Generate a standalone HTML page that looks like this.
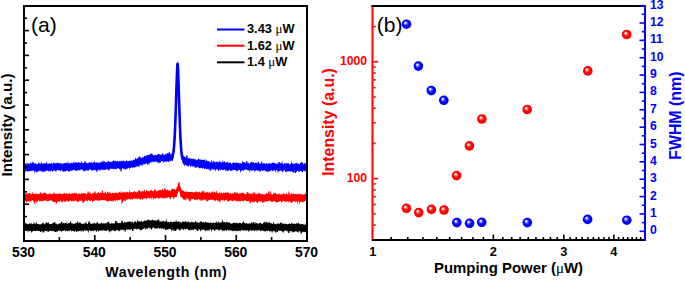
<!DOCTYPE html>
<html><head><meta charset="utf-8"><style>
html,body{margin:0;padding:0;background:#fff;width:685px;height:281px;overflow:hidden}
svg{display:block}
</style></head><body>
<svg width="685" height="281" viewBox="0 0 685 281">
<rect width="685" height="281" fill="#fff"/>
<path d="M25.00,224.59 25.60,222.60 26.20,224.04 26.79,222.89 27.39,224.58 27.99,224.11 28.59,224.30 29.19,224.01 29.78,222.60 30.38,224.34 30.98,224.47 31.58,222.61 32.17,224.12 32.77,224.43 33.37,224.46 33.97,221.82 34.57,223.76 35.16,223.18 35.76,224.53 36.36,221.43 36.96,223.74 37.56,224.20 38.15,223.78 38.75,224.25 39.35,224.29 39.95,224.41 40.54,224.15 41.14,224.47 41.74,224.20 42.34,223.92 42.94,223.56 43.53,222.18 44.13,224.48 44.73,224.47 45.33,223.14 45.93,222.71 46.52,222.29 47.12,222.61 47.72,223.58 48.32,221.58 48.91,223.40 49.51,224.20 50.11,224.10 50.71,224.13 51.31,223.87 51.90,223.99 52.50,222.98 53.10,223.42 53.70,222.90 54.30,223.25 54.89,222.07 55.49,224.02 56.09,222.91 56.69,224.34 57.29,224.41 57.88,224.39 58.48,223.68 59.08,223.30 59.68,223.80 60.27,222.90 60.87,224.06 61.47,223.41 62.07,223.64 62.67,223.90 63.26,222.91 63.86,222.63 64.46,223.59 65.06,223.87 65.66,222.87 66.25,224.29 66.85,221.40 67.45,223.98 68.05,224.09 68.64,223.34 69.24,223.20 69.84,223.80 70.44,223.68 71.04,224.00 71.63,223.17 72.23,222.72 72.83,224.20 73.43,224.18 74.03,223.01 74.62,223.97 75.22,223.55 75.82,222.87 76.42,223.51 77.01,222.25 77.61,220.68 78.21,223.05 78.81,223.53 79.41,222.30 80.00,221.78 80.60,223.30 81.20,223.35 81.80,223.98 82.40,223.80 82.99,224.17 83.59,223.28 84.19,224.08 84.79,222.49 85.39,223.98 85.98,220.84 86.58,223.54 87.18,224.06 87.78,224.18 88.37,222.98 88.97,222.05 89.57,222.93 90.17,223.65 90.77,223.33 91.36,224.04 91.96,223.46 92.56,223.87 93.16,224.08 93.76,223.96 94.35,222.70 94.95,223.62 95.55,224.10 96.15,223.75 96.74,222.57 97.34,221.41 97.94,223.04 98.54,223.93 99.14,223.33 99.73,224.02 100.33,223.97 100.93,223.08 101.53,222.46 102.13,222.95 102.72,223.89 103.32,223.86 103.92,222.29 104.52,224.03 105.11,222.97 105.71,223.58 106.31,222.66 106.91,223.78 107.51,222.07 108.10,222.10 108.70,221.28 109.30,223.97 109.90,222.85 110.50,223.88 111.09,223.86 111.69,222.65 112.29,223.57 112.89,223.16 113.49,223.33 114.08,223.63 114.68,223.20 115.28,221.57 115.88,222.23 116.47,223.29 117.07,223.02 117.67,222.87 118.27,222.88 118.87,223.40 119.46,222.90 120.06,222.84 120.66,223.19 121.26,223.20 121.86,220.06 122.45,221.79 123.05,223.19 123.65,223.09 124.25,221.38 124.84,222.29 125.44,222.45 126.04,222.21 126.64,222.66 127.24,221.96 127.83,221.50 128.43,222.06 129.03,221.81 129.63,221.20 130.23,221.01 130.82,222.76 131.42,222.61 132.02,222.27 132.62,221.33 133.21,222.83 133.81,222.87 134.41,222.92 135.01,221.81 135.61,221.27 136.20,222.77 136.80,222.31 137.40,219.09 138.00,222.09 138.60,221.12 139.19,221.77 139.79,221.49 140.39,221.78 140.99,221.53 141.59,220.80 142.18,221.95 142.78,222.01 143.38,221.41 143.98,220.76 144.57,220.48 145.17,220.48 145.77,221.49 146.37,220.84 146.97,219.69 147.56,220.60 148.16,219.22 148.76,219.74 149.36,219.99 149.96,220.61 150.55,220.56 151.15,220.04 151.75,220.42 152.35,220.25 152.94,219.03 153.54,221.00 154.14,220.23 154.74,221.08 155.34,219.80 155.93,220.84 156.53,221.15 157.13,219.79 157.73,220.00 158.33,220.10 158.92,218.39 159.52,221.53 160.12,221.46 160.72,221.56 161.31,221.99 161.91,220.42 162.51,221.49 163.11,221.19 163.71,220.36 164.30,221.78 164.90,221.67 165.50,220.80 166.10,222.14 166.70,217.74 167.29,222.57 167.89,222.03 168.49,221.63 169.09,222.47 169.69,222.65 170.28,221.06 170.88,222.69 171.48,221.68 172.08,222.74 172.67,222.27 173.27,221.71 173.87,221.72 174.47,222.08 175.07,220.59 175.66,222.34 176.26,219.64 176.86,221.94 177.46,222.11 178.06,221.49 178.65,221.18 179.25,221.24 179.85,222.54 180.45,222.13 181.04,222.08 181.64,222.69 182.24,222.19 182.84,221.02 183.44,221.91 184.03,222.21 184.63,221.75 185.23,221.31 185.83,220.94 186.43,222.60 187.02,221.34 187.62,222.61 188.22,220.82 188.82,222.51 189.41,222.54 190.01,222.36 190.61,222.38 191.21,222.05 191.81,222.88 192.40,222.15 193.00,222.20 193.60,222.30 194.20,222.76 194.80,221.93 195.39,220.52 195.99,221.77 196.59,221.96 197.19,222.74 197.79,222.94 198.38,222.87 198.98,223.06 199.58,222.58 200.18,222.65 200.77,221.83 201.37,223.03 201.97,221.44 202.57,223.14 203.17,221.72 203.76,222.56 204.36,222.52 204.96,222.19 205.56,221.61 206.16,222.85 206.75,221.98 207.35,222.43 207.95,222.72 208.55,222.29 209.14,222.82 209.74,223.20 210.34,222.96 210.94,221.57 211.54,223.23 212.13,223.02 212.73,223.01 213.33,222.67 213.93,222.58 214.53,222.95 215.12,223.16 215.72,222.27 216.32,220.75 216.92,223.13 217.51,222.86 218.11,221.45 218.71,221.63 219.31,222.23 219.91,223.32 220.50,222.13 221.10,222.72 221.70,222.32 222.30,218.98 222.90,222.46 223.49,221.83 224.09,221.41 224.69,222.16 225.29,222.86 225.89,222.16 226.48,222.30 227.08,221.85 227.68,222.10 228.28,223.23 228.87,222.49 229.47,222.35 230.07,223.62 230.67,223.24 231.27,223.46 231.86,223.63 232.46,223.63 233.06,222.02 233.66,223.23 234.26,222.82 234.85,223.22 235.45,223.31 236.05,222.05 236.65,223.28 237.24,222.77 237.84,223.83 238.44,223.18 239.04,222.93 239.64,223.04 240.23,222.93 240.83,223.16 241.43,223.70 242.03,223.28 242.63,222.01 243.22,222.78 243.82,220.32 244.42,223.40 245.02,223.07 245.61,223.64 246.21,223.20 246.81,222.96 247.41,223.64 248.01,223.49 248.60,223.84 249.20,222.89 249.80,223.82 250.40,223.18 251.00,223.99 251.59,221.47 252.19,223.24 252.79,223.15 253.39,223.43 253.99,222.95 254.58,224.07 255.18,221.72 255.78,223.78 256.38,222.90 256.97,223.47 257.57,223.48 258.17,223.90 258.77,222.71 259.37,223.67 259.96,222.60 260.56,222.98 261.16,223.37 261.76,224.01 262.36,224.14 262.95,223.45 263.55,222.57 264.15,222.46 264.75,221.24 265.34,223.71 265.94,224.20 266.54,221.77 267.14,224.16 267.74,223.37 268.33,222.55 268.93,222.33 269.53,221.91 270.13,223.65 270.73,222.19 271.32,223.33 271.92,223.65 272.52,224.24 273.12,222.67 273.71,222.07 274.31,224.25 274.91,224.06 275.51,224.21 276.11,223.19 276.70,224.50 277.30,223.98 277.90,222.90 278.50,223.30 279.10,224.14 279.69,224.45 280.29,222.71 280.89,221.92 281.49,223.22 282.09,222.54 282.68,223.98 283.28,224.50 283.88,224.00 284.48,223.73 285.07,223.36 285.67,224.24 286.27,224.06 286.87,223.70 287.47,224.58 288.06,224.09 288.66,224.08 289.26,223.20 289.86,223.68 290.46,224.35 291.05,223.99 291.65,222.20 292.25,223.09 292.85,224.57 293.44,223.62 294.04,224.36 294.64,222.93 295.24,224.46 295.84,224.32 296.43,223.20 297.03,222.57 297.63,224.20 298.23,222.88 298.83,222.77 299.42,224.67 300.02,223.93 300.62,224.24 301.22,224.41 301.81,223.95 302.41,224.04 303.01,223.64 303.61,224.79 304.21,224.50 304.80,224.86 305.40,224.90 306.00,222.21 L306.00,232.67 305.40,231.44 304.80,232.13 304.21,232.08 303.61,232.14 303.01,231.47 302.41,231.69 301.81,233.09 301.22,232.80 300.62,232.23 300.02,230.94 299.42,231.37 298.83,231.03 298.23,232.94 297.63,231.96 297.03,231.00 296.43,231.18 295.84,231.16 295.24,230.78 294.64,231.70 294.04,231.64 293.44,232.04 292.85,233.32 292.25,230.44 291.65,231.46 291.05,230.50 290.46,231.49 289.86,231.05 289.26,230.63 288.66,231.88 288.06,230.93 287.47,230.63 286.87,232.14 286.27,230.36 285.67,230.33 285.07,230.49 284.48,230.65 283.88,231.61 283.28,230.51 282.68,230.51 282.09,231.38 281.49,230.96 280.89,230.59 280.29,230.68 279.69,230.91 279.10,230.44 278.50,230.50 277.90,230.25 277.30,231.47 276.70,230.43 276.11,233.48 275.51,232.59 274.91,231.53 274.31,231.36 273.71,230.54 273.12,231.21 272.52,231.23 271.92,230.83 271.32,231.20 270.73,231.43 270.13,230.46 269.53,231.98 268.93,230.64 268.33,230.00 267.74,231.35 267.14,230.85 266.54,231.12 265.94,230.65 265.34,231.64 264.75,231.61 264.15,230.99 263.55,231.07 262.95,230.69 262.36,230.56 261.76,230.53 261.16,230.39 260.56,231.61 259.96,230.87 259.37,230.03 258.77,229.84 258.17,231.09 257.57,229.79 256.97,232.07 256.38,229.94 255.78,230.27 255.18,230.19 254.58,231.59 253.99,229.90 253.39,230.73 252.79,230.42 252.19,229.71 251.59,230.65 251.00,230.10 250.40,229.69 249.80,231.17 249.20,230.34 248.60,232.50 248.01,229.63 247.41,229.88 246.81,229.74 246.21,231.80 245.61,230.10 245.02,230.12 244.42,230.89 243.82,230.95 243.22,229.89 242.63,230.51 242.03,229.60 241.43,230.15 240.83,231.40 240.23,230.51 239.64,230.32 239.04,231.59 238.44,230.51 237.84,230.41 237.24,230.95 236.65,230.18 236.05,230.42 235.45,231.07 234.85,230.86 234.26,230.66 233.66,229.79 233.06,230.19 232.46,229.65 231.86,230.79 231.27,229.78 230.67,229.43 230.07,231.57 229.47,229.43 228.87,230.53 228.28,230.76 227.68,229.64 227.08,229.56 226.48,231.76 225.89,229.69 225.29,230.38 224.69,230.81 224.09,229.56 223.49,230.64 222.90,231.68 222.30,230.52 221.70,229.98 221.10,229.38 220.50,229.41 219.91,229.25 219.31,230.78 218.71,230.48 218.11,229.93 217.51,229.10 216.92,229.72 216.32,229.47 215.72,229.24 215.12,230.99 214.53,231.35 213.93,229.58 213.33,229.39 212.73,229.96 212.13,229.04 211.54,232.69 210.94,229.30 210.34,229.36 209.74,229.19 209.14,229.01 208.55,229.10 207.95,230.61 207.35,229.02 206.75,229.83 206.16,230.70 205.56,231.81 204.96,229.85 204.36,229.89 203.76,229.62 203.17,229.59 202.57,229.89 201.97,230.20 201.37,229.35 200.77,230.95 200.18,231.48 199.58,228.80 198.98,230.51 198.38,228.79 197.79,229.10 197.19,230.24 196.59,228.76 195.99,229.13 195.39,229.27 194.80,228.83 194.20,229.33 193.60,229.96 193.00,229.89 192.40,229.30 191.81,230.56 191.21,229.07 190.61,230.72 190.01,229.62 189.41,229.90 188.82,230.36 188.22,230.30 187.62,228.85 187.02,228.60 186.43,228.94 185.83,229.10 185.23,230.02 184.63,228.59 184.03,229.28 183.44,230.41 182.84,228.69 182.24,229.15 181.64,228.62 181.04,229.10 180.45,230.86 179.85,228.64 179.25,230.86 178.65,229.20 178.06,228.82 177.46,228.74 176.86,228.56 176.26,228.79 175.66,229.02 175.07,229.89 174.47,231.37 173.87,229.76 173.27,228.52 172.67,229.78 172.08,229.39 171.48,231.38 170.88,229.02 170.28,229.26 169.69,229.33 169.09,228.44 168.49,228.78 167.89,229.41 167.29,229.57 166.70,229.69 166.10,229.33 165.50,230.19 164.90,229.91 164.30,228.05 163.71,229.47 163.11,228.10 162.51,228.24 161.91,228.33 161.31,228.86 160.72,228.50 160.12,227.65 159.52,229.14 158.92,228.34 158.33,227.67 157.73,227.62 157.13,229.66 156.53,227.21 155.93,228.68 155.34,227.20 154.74,228.03 154.14,228.06 153.54,227.39 152.94,226.74 152.35,226.70 151.75,226.73 151.15,227.51 150.55,227.80 149.96,229.37 149.36,227.55 148.76,226.94 148.16,227.76 147.56,229.15 146.97,228.09 146.37,228.19 145.77,228.27 145.17,230.34 144.57,227.61 143.98,228.52 143.38,229.06 142.78,229.00 142.18,228.67 141.59,229.43 140.99,230.40 140.39,230.24 139.79,229.62 139.19,229.28 138.60,228.51 138.00,228.79 137.40,229.26 136.80,229.47 136.20,228.57 135.61,228.76 135.01,228.66 134.41,228.71 133.81,229.33 133.21,229.17 132.62,229.07 132.02,229.19 131.42,229.05 130.82,230.00 130.23,229.48 129.63,229.60 129.03,229.39 128.43,229.23 127.83,228.90 127.24,230.50 126.64,229.62 126.04,229.26 125.44,232.25 124.84,231.46 124.25,229.51 123.65,229.69 123.05,230.48 122.45,229.26 121.86,230.52 121.26,229.60 120.66,229.53 120.06,231.10 119.46,230.63 118.87,232.00 118.27,229.64 117.67,230.61 117.07,229.70 116.47,230.34 115.88,230.75 115.28,231.09 114.68,231.76 114.08,229.61 113.49,230.69 112.89,230.46 112.29,230.12 111.69,231.71 111.09,229.73 110.50,231.52 109.90,230.79 109.30,233.23 108.70,230.02 108.10,229.87 107.51,229.77 106.91,230.41 106.31,231.29 105.71,230.10 105.11,231.17 104.52,230.55 103.92,230.11 103.32,230.11 102.72,230.77 102.13,229.92 101.53,230.41 100.93,229.70 100.33,230.83 99.73,230.12 99.14,230.96 98.54,231.92 97.94,230.33 97.34,230.18 96.74,230.89 96.15,232.57 95.55,230.07 94.95,229.86 94.35,230.81 93.76,231.84 93.16,229.97 92.56,231.22 91.96,230.15 91.36,231.54 90.77,230.48 90.17,231.18 89.57,229.97 88.97,230.03 88.37,233.56 87.78,230.65 87.18,230.66 86.58,229.90 85.98,230.43 85.39,229.89 84.79,230.18 84.19,230.41 83.59,232.11 82.99,230.93 82.40,231.12 81.80,230.04 81.20,232.22 80.60,231.00 80.00,230.46 79.41,231.33 78.81,230.80 78.21,231.79 77.61,230.92 77.01,232.12 76.42,232.06 75.82,230.12 75.22,231.56 74.62,231.63 74.03,231.59 73.43,230.92 72.83,230.98 72.23,230.64 71.63,230.72 71.04,230.38 70.44,230.20 69.84,230.05 69.24,231.57 68.64,230.32 68.05,231.55 67.45,231.36 66.85,230.75 66.25,230.42 65.66,231.79 65.06,230.62 64.46,230.13 63.86,230.18 63.26,230.17 62.67,230.90 62.07,230.43 61.47,232.54 60.87,230.80 60.27,231.04 59.68,231.19 59.08,230.21 58.48,230.84 57.88,230.72 57.29,232.60 56.69,230.32 56.09,231.50 55.49,232.58 54.89,230.93 54.30,232.01 53.70,231.22 53.10,230.57 52.50,230.88 51.90,231.53 51.31,230.41 50.71,231.00 50.11,230.96 49.51,230.38 48.91,231.87 48.32,231.69 47.72,231.82 47.12,230.39 46.52,231.46 45.93,230.27 45.33,231.09 44.73,230.54 44.13,232.23 43.53,232.36 42.94,233.11 42.34,230.82 41.74,230.97 41.14,230.71 40.54,230.69 39.95,230.65 39.35,230.90 38.75,231.20 38.15,230.72 37.56,230.24 36.96,231.08 36.36,230.94 35.76,231.13 35.16,230.77 34.57,230.86 33.97,230.63 33.37,230.63 32.77,231.20 32.17,232.04 31.58,232.88 30.98,230.98 30.38,230.83 29.78,231.46 29.19,230.92 28.59,230.61 27.99,232.68 27.39,230.53 26.79,230.54 26.20,231.35 25.60,230.46 25.00,231.67Z" fill="#000" stroke="none"/>
<path d="M25.00,228.90 25.31,227.36 25.62,227.20 25.94,228.57 26.25,230.32 26.56,225.68 26.87,231.02 27.19,226.71 27.50,225.28 27.81,230.13 28.12,226.36 28.43,228.87 28.75,224.69 29.06,228.85 29.37,226.42 29.68,229.80 30.00,224.21 30.31,225.98 30.62,225.39 30.93,227.83 31.24,225.35 31.56,226.68 31.87,227.33 32.18,226.49 32.49,227.68 32.81,227.93 33.12,224.11 33.43,229.44 33.74,225.12 34.05,225.75 34.37,230.83 34.68,225.95 34.99,227.03 35.30,228.77 35.62,226.00 35.93,227.07 36.24,226.73 36.55,226.94 36.86,224.92 37.18,229.42 37.49,227.36 37.80,228.52 38.11,227.37 38.43,226.07 38.74,229.62 39.05,225.78 39.36,229.26 39.67,225.79 39.99,225.83 40.30,227.47 40.61,231.99 40.92,229.13 41.24,227.52 41.55,228.16 41.86,229.62 42.17,226.33 42.48,223.44 42.80,225.16 43.11,227.17 43.42,225.80 43.73,226.73 44.05,230.20 44.36,226.73 44.67,226.04 44.98,227.33 45.29,229.71 45.61,230.69 45.92,228.64 46.23,226.69 46.54,226.36 46.86,224.96 47.17,226.03 47.48,229.11 47.79,228.43 48.10,227.88 48.42,225.17 48.73,227.09 49.04,225.85 49.35,230.26 49.67,227.26 49.98,227.01 50.29,227.18 50.60,227.20 50.91,227.38 51.23,226.12 51.54,227.74 51.85,227.33 52.16,228.98 52.48,228.27 52.79,228.55 53.10,226.19 53.41,227.24 53.72,222.72 54.04,225.45 54.35,226.36 54.66,222.37 54.97,229.53 55.29,229.10 55.60,227.51 55.91,231.91 56.22,224.04 56.53,227.32 56.85,227.41 57.16,226.18 57.47,230.17 57.78,229.38 58.10,228.12 58.41,225.28 58.72,227.66 59.03,227.28 59.34,228.18 59.66,224.28 59.97,225.10 60.28,229.35 60.59,227.29 60.91,226.98 61.22,227.04 61.53,221.67 61.84,230.02 62.15,224.15 62.47,224.65 62.78,228.19 63.09,229.86 63.40,229.51 63.72,226.08 64.03,225.45 64.34,228.37 64.65,227.55 64.96,223.49 65.28,229.77 65.59,223.22 65.90,227.87 66.21,227.74 66.53,228.56 66.84,227.29 67.15,228.79 67.46,227.68 67.77,225.30 68.09,225.85 68.40,229.87 68.71,223.26 69.02,228.49 69.34,225.87 69.65,223.57 69.96,225.33 70.27,228.01 70.58,221.46 70.90,228.87 71.21,229.55 71.52,226.22 71.83,226.34 72.15,227.14 72.46,228.83 72.77,224.97 73.08,226.07 73.39,227.73 73.71,224.01 74.02,227.67 74.33,226.91 74.64,228.65 74.96,224.75 75.27,226.92 75.58,227.80 75.89,227.11 76.20,224.86 76.52,229.31 76.83,226.81 77.14,227.31 77.45,227.12 77.77,228.38 78.08,227.19 78.39,225.62 78.70,228.69 79.01,226.86 79.33,227.22 79.64,227.40 79.95,224.64 80.26,227.17 80.58,227.62 80.89,224.12 81.20,226.40 81.51,226.86 81.82,228.38 82.14,226.36 82.45,227.14 82.76,228.25 83.07,224.54 83.39,225.49 83.70,226.39 84.01,228.42 84.32,229.69 84.63,227.19 84.95,226.76 85.26,226.02 85.57,227.19 85.88,230.33 86.20,226.72 86.51,225.94 86.82,230.16 87.13,226.75 87.44,226.61 87.76,225.26 88.07,229.09 88.38,226.52 88.69,223.26 89.01,222.66 89.32,227.60 89.63,225.89 89.94,227.90 90.25,227.96 90.57,230.00 90.88,229.80 91.19,224.76 91.50,226.34 91.82,225.36 92.13,228.67 92.44,223.98 92.75,228.18 93.06,223.47 93.38,228.97 93.69,229.22 94.00,223.61 94.31,226.93 94.63,225.69 94.94,223.55 95.25,228.73 95.56,225.30 95.87,228.96 96.19,227.81 96.50,230.53 96.81,225.96 97.12,228.54 97.44,227.26 97.75,226.11 98.06,229.00 98.37,226.98 98.68,225.97 99.00,227.22 99.31,224.22 99.62,229.03 99.93,230.24 100.25,223.86 100.56,227.10 100.87,226.12 101.18,225.42 101.49,228.50 101.81,230.30 102.12,227.48 102.43,226.25 102.74,230.28 103.06,226.15 103.37,225.45 103.68,225.66 103.99,228.68 104.30,226.95 104.62,227.13 104.93,225.57 105.24,227.52 105.55,226.74 105.87,230.35 106.18,226.73 106.49,224.77 106.80,230.18 107.11,227.35 107.43,226.74 107.74,227.74 108.05,226.89 108.36,222.47 108.68,226.72 108.99,229.32 109.30,228.65 109.61,225.23 109.92,226.12 110.24,227.74 110.55,230.93 110.86,227.49 111.17,227.23 111.49,225.57 111.80,225.93 112.11,225.68 112.42,226.67 112.73,224.75 113.05,225.86 113.36,224.33 113.67,228.91 113.98,227.92 114.30,226.28 114.61,226.11 114.92,228.15 115.23,226.95 115.54,225.61 115.86,221.16 116.17,222.81 116.48,227.84 116.79,226.14 117.11,224.97 117.42,222.86 117.73,227.78 118.04,224.12 118.35,226.73 118.67,226.25 118.98,225.33 119.29,224.08 119.60,227.02 119.92,223.60 120.23,225.13 120.54,226.08 120.85,228.61 121.16,225.45 121.48,226.57 121.79,227.49 122.10,221.39 122.41,224.39 122.73,225.54 123.04,224.78 123.35,227.87 123.66,225.16 123.97,227.40 124.29,228.04 124.60,225.61 124.91,226.88 125.22,229.05 125.54,228.04 125.85,226.23 126.16,222.72 126.47,224.76 126.78,225.91 127.10,226.73 127.41,226.40 127.72,226.03 128.03,223.99 128.35,227.24 128.66,227.92 128.97,225.89 129.28,226.11 129.59,227.65 129.91,225.21 130.22,226.78 130.53,227.91 130.84,224.55 131.16,225.79 131.47,224.34 131.78,223.71 132.09,222.09 132.40,226.51 132.72,230.84 133.03,225.18 133.34,228.96 133.65,227.93 133.97,225.03 134.28,227.63 134.59,224.95 134.90,221.58 135.21,227.51 135.53,225.22 135.84,225.33 136.15,227.17 136.46,227.69 136.78,225.30 137.09,226.23 137.40,226.33 137.71,223.97 138.02,227.15 138.34,224.47 138.65,226.38 138.96,227.42 139.27,227.48 139.59,221.60 139.90,224.00 140.21,224.79 140.52,223.80 140.83,225.03 141.15,225.11 141.46,225.41 141.77,229.79 142.08,225.67 142.40,225.25 142.71,223.55 143.02,224.56 143.33,224.55 143.64,226.19 143.96,222.40 144.27,224.38 144.58,222.64 144.89,221.29 145.21,226.07 145.52,224.21 145.83,225.21 146.14,227.77 146.45,227.32 146.77,224.18 147.08,224.96 147.39,223.22 147.70,223.71 148.02,220.99 148.33,225.56 148.64,224.19 148.95,226.01 149.26,227.55 149.58,222.16 149.89,224.17 150.20,223.37 150.51,226.28 150.83,223.31 151.14,227.16 151.45,228.45 151.76,227.88 152.07,227.78 152.39,224.53 152.70,223.91 153.01,221.07 153.32,224.25 153.64,220.64 153.95,221.96 154.26,226.37 154.57,225.93 154.88,221.80 155.20,228.47 155.51,221.87 155.82,221.89 156.13,227.10 156.45,227.44 156.76,223.88 157.07,225.59 157.38,221.25 157.69,226.04 158.01,223.42 158.32,226.50 158.63,223.33 158.94,223.66 159.26,226.13 159.57,226.06 159.88,224.03 160.19,221.84 160.50,225.51 160.82,227.71 161.13,226.51 161.44,222.28 161.75,225.23 162.07,225.56 162.38,228.19 162.69,224.81 163.00,224.65 163.31,228.41 163.63,222.72 163.94,223.85 164.25,223.36 164.56,227.57 164.88,223.83 165.19,226.64 165.50,223.86 165.81,228.26 166.12,226.42 166.44,224.10 166.75,226.75 167.06,226.10 167.37,225.49 167.69,223.56 168.00,229.29 168.31,225.71 168.62,224.78 168.93,225.77 169.25,225.44 169.56,223.11 169.87,227.69 170.18,222.40 170.50,227.36 170.81,221.82 171.12,222.81 171.43,227.96 171.74,222.64 172.06,225.64 172.37,226.13 172.68,228.30 172.99,229.12 173.31,227.35 173.62,226.70 173.93,227.92 174.24,227.64 174.55,222.45 174.87,226.89 175.18,223.94 175.49,230.86 175.80,228.09 176.12,224.26 176.43,229.38 176.74,223.81 177.05,226.79 177.36,223.21 177.68,224.99 177.99,226.14 178.30,223.04 178.61,226.88 178.93,227.80 179.24,228.92 179.55,227.86 179.86,226.53 180.17,227.38 180.49,224.15 180.80,224.71 181.11,228.49 181.42,223.52 181.74,224.66 182.05,227.55 182.36,225.54 182.67,223.34 182.98,224.54 183.30,224.36 183.61,223.31 183.92,224.61 184.23,227.25 184.55,224.66 184.86,226.19 185.17,224.44 185.48,225.40 185.79,227.18 186.11,226.59 186.42,225.40 186.73,225.26 187.04,227.98 187.36,225.07 187.67,222.95 187.98,227.24 188.29,227.19 188.60,225.61 188.92,224.73 189.23,228.51 189.54,228.42 189.85,226.65 190.17,225.84 190.48,227.30 190.79,229.36 191.10,224.63 191.41,227.59 191.73,221.79 192.04,224.80 192.35,227.15 192.66,226.21 192.98,223.55 193.29,227.55 193.60,227.33 193.91,227.49 194.22,225.24 194.54,225.61 194.85,225.57 195.16,226.54 195.47,226.18 195.79,225.77 196.10,227.42 196.41,228.26 196.72,226.27 197.03,228.55 197.35,222.65 197.66,231.09 197.97,224.27 198.28,225.19 198.60,226.95 198.91,228.06 199.22,226.45 199.53,222.85 199.84,225.33 200.16,223.69 200.47,227.86 200.78,225.21 201.09,221.25 201.41,224.57 201.72,226.59 202.03,223.84 202.34,227.01 202.65,222.75 202.97,225.50 203.28,228.00 203.59,226.15 203.90,224.13 204.22,224.61 204.53,228.08 204.84,227.46 205.15,226.80 205.46,227.60 205.78,225.97 206.09,226.18 206.40,225.91 206.71,225.26 207.03,228.37 207.34,224.28 207.65,230.55 207.96,227.76 208.27,225.70 208.59,229.07 208.90,229.57 209.21,226.83 209.52,223.84 209.84,226.43 210.15,226.27 210.46,225.04 210.77,223.37 211.08,224.43 211.40,226.57 211.71,225.89 212.02,228.11 212.33,223.81 212.65,227.57 212.96,224.66 213.27,227.16 213.58,226.69 213.89,229.14 214.21,227.42 214.52,225.75 214.83,226.65 215.14,223.40 215.46,226.39 215.77,227.34 216.08,226.86 216.39,225.31 216.70,226.92 217.02,226.88 217.33,227.06 217.64,224.51 217.95,227.93 218.27,226.32 218.58,224.06 218.89,226.05 219.20,228.66 219.51,229.44 219.83,225.81 220.14,224.83 220.45,225.71 220.76,227.75 221.08,229.08 221.39,226.73 221.70,225.93 222.01,229.28 222.32,227.30 222.64,224.89 222.95,225.96 223.26,228.25 223.57,225.79 223.89,226.50 224.20,225.08 224.51,227.52 224.82,229.33 225.13,228.86 225.45,225.66 225.76,224.25 226.07,229.33 226.38,227.88 226.70,223.45 227.01,229.30 227.32,225.57 227.63,225.29 227.94,226.51 228.26,223.80 228.57,224.31 228.88,229.31 229.19,225.96 229.51,227.48 229.82,229.16 230.13,227.26 230.44,226.34 230.75,227.68 231.07,229.82 231.38,227.55 231.69,225.82 232.00,230.44 232.32,229.44 232.63,224.26 232.94,227.33 233.25,231.29 233.56,223.80 233.88,223.87 234.19,228.05 234.50,225.63 234.81,223.57 235.13,229.61 235.44,226.37 235.75,227.49 236.06,229.09 236.37,227.22 236.69,224.93 237.00,231.16 237.31,228.64 237.62,226.77 237.94,226.00 238.25,223.99 238.56,228.10 238.87,224.15 239.18,230.32 239.50,222.90 239.81,228.44 240.12,224.61 240.43,224.71 240.75,228.15 241.06,226.98 241.37,228.21 241.68,224.58 241.99,226.45 242.31,226.08 242.62,227.27 242.93,228.51 243.24,226.52 243.56,224.90 243.87,226.98 244.18,223.48 244.49,225.57 244.80,229.28 245.12,225.74 245.43,228.54 245.74,226.05 246.05,224.99 246.37,227.09 246.68,227.82 246.99,226.57 247.30,227.34 247.61,230.19 247.93,226.87 248.24,227.55 248.55,225.31 248.86,228.47 249.18,225.44 249.49,227.25 249.80,225.90 250.11,228.20 250.42,227.93 250.74,228.98 251.05,227.05 251.36,228.17 251.67,230.65 251.99,225.09 252.30,225.10 252.61,228.58 252.92,227.22 253.23,227.13 253.55,222.11 253.86,226.52 254.17,228.86 254.48,227.97 254.80,227.01 255.11,226.66 255.42,225.61 255.73,226.14 256.04,227.05 256.36,223.24 256.67,229.55 256.98,224.63 257.29,229.47 257.61,228.50 257.92,225.41 258.23,226.37 258.54,227.68 258.85,229.16 259.17,225.20 259.48,227.97 259.79,228.40 260.10,226.60 260.42,227.72 260.73,226.15 261.04,226.24 261.35,225.03 261.66,225.26 261.98,228.46 262.29,228.00 262.60,228.11 262.91,225.96 263.23,227.76 263.54,228.81 263.85,224.55 264.16,224.97 264.47,224.86 264.79,227.25 265.10,227.35 265.41,230.75 265.72,229.11 266.04,221.75 266.35,227.55 266.66,226.25 266.97,228.90 267.28,224.84 267.60,224.03 267.91,225.09 268.22,228.17 268.53,226.26 268.85,228.33 269.16,230.78 269.47,224.77 269.78,226.18 270.09,227.62 270.41,228.73 270.72,225.58 271.03,227.17 271.34,225.14 271.66,230.11 271.97,228.83 272.28,230.93 272.59,230.14 272.90,228.13 273.22,228.84 273.53,228.66 273.84,227.29 274.15,226.74 274.47,226.56 274.78,227.81 275.09,227.74 275.40,229.68 275.71,227.49 276.03,227.81 276.34,230.60 276.65,226.27 276.96,225.17 277.28,232.08 277.59,225.01 277.90,226.10 278.21,230.56 278.52,226.89 278.84,226.13 279.15,227.46 279.46,226.83 279.77,225.34 280.09,223.51 280.40,225.57 280.71,224.86 281.02,226.26 281.33,225.65 281.65,228.88 281.96,228.64 282.27,226.02 282.58,230.79 282.90,231.25 283.21,223.79 283.52,225.31 283.83,231.10 284.14,227.76 284.46,227.20 284.77,226.58 285.08,227.18 285.39,229.35 285.71,228.50 286.02,227.12 286.33,226.26 286.64,226.47 286.95,229.55 287.27,226.50 287.58,227.21 287.89,227.65 288.20,227.79 288.52,224.92 288.83,232.86 289.14,228.83 289.45,230.61 289.76,225.16 290.08,224.35 290.39,227.77 290.70,226.87 291.01,225.73 291.33,230.87 291.64,225.17 291.95,224.44 292.26,231.31 292.57,228.34 292.89,224.78 293.20,229.73 293.51,225.96 293.82,226.66 294.14,227.15 294.45,227.53 294.76,231.35 295.07,226.01 295.38,225.91 295.70,225.31 296.01,227.45 296.32,225.49 296.63,227.77 296.95,230.54 297.26,231.66 297.57,227.25 297.88,228.02 298.19,226.52 298.51,227.06 298.82,229.18 299.13,223.73 299.44,226.00 299.76,225.77 300.07,225.88 300.38,226.58 300.69,228.25 301.00,227.16 301.32,233.36 301.63,230.13 301.94,226.11 302.25,227.15 302.57,226.38 302.88,228.14 303.19,227.76 303.50,229.04 303.81,227.85 304.13,230.31 304.44,227.39 304.75,227.86 305.06,228.56 305.38,228.02 305.69,227.74 306.00,228.89" fill="none" stroke="#000" stroke-width="1.30" stroke-linejoin="miter"/>
<path d="M25.00,190.99 25.60,194.23 26.20,193.69 26.79,192.82 27.39,192.99 27.99,194.41 28.59,193.13 29.19,192.79 29.78,193.35 30.38,193.28 30.98,194.45 31.58,193.93 32.17,193.32 32.77,192.09 33.37,194.05 33.97,194.31 34.57,194.08 35.16,193.86 35.76,193.79 36.36,194.38 36.96,193.27 37.56,194.44 38.15,193.84 38.75,194.21 39.35,193.79 39.95,193.13 40.54,191.46 41.14,194.59 41.74,192.35 42.34,194.46 42.94,193.37 43.53,192.86 44.13,193.41 44.73,192.12 45.33,192.92 45.93,193.37 46.52,193.76 47.12,194.06 47.72,194.16 48.32,194.47 48.91,193.79 49.51,192.64 50.11,193.70 50.71,194.34 51.31,194.11 51.90,194.31 52.50,193.49 53.10,194.35 53.70,192.61 54.30,192.64 54.89,193.88 55.49,194.47 56.09,193.18 56.69,193.96 57.29,194.31 57.88,194.42 58.48,193.52 59.08,193.70 59.68,193.49 60.27,194.23 60.87,194.25 61.47,193.92 62.07,193.45 62.67,193.90 63.26,194.05 63.86,194.21 64.46,194.01 65.06,193.99 65.66,194.27 66.25,192.50 66.85,193.79 67.45,194.22 68.05,193.21 68.64,194.35 69.24,194.04 69.84,193.44 70.44,194.25 71.04,194.34 71.63,194.08 72.23,193.95 72.83,194.40 73.43,193.84 74.03,192.31 74.62,193.31 75.22,193.20 75.82,193.31 76.42,192.60 77.01,194.35 77.61,194.15 78.21,194.32 78.81,193.61 79.41,193.56 80.00,193.65 80.60,194.11 81.20,193.84 81.80,192.79 82.40,194.05 82.99,192.99 83.59,193.08 84.19,193.42 84.79,193.44 85.39,193.45 85.98,193.17 86.58,194.03 87.18,193.65 87.78,194.09 88.37,193.49 88.97,193.47 89.57,193.11 90.17,191.53 90.77,193.96 91.36,194.20 91.96,194.02 92.56,193.53 93.16,193.80 93.76,194.22 94.35,193.38 94.95,194.12 95.55,194.12 96.15,192.95 96.74,194.23 97.34,192.79 97.94,192.87 98.54,191.66 99.14,192.76 99.73,193.22 100.33,192.61 100.93,192.79 101.53,192.83 102.13,193.99 102.72,193.79 103.32,193.12 103.92,192.90 104.52,193.20 105.11,191.73 105.71,191.46 106.31,193.47 106.91,193.87 107.51,193.54 108.10,194.18 108.70,192.93 109.30,191.86 109.90,192.94 110.50,192.77 111.09,193.15 111.69,193.69 112.29,193.57 112.89,193.50 113.49,193.08 114.08,192.90 114.68,193.83 115.28,192.76 115.88,193.15 116.47,192.36 117.07,193.66 117.67,192.77 118.27,193.24 118.87,192.19 119.46,191.96 120.06,191.32 120.66,192.87 121.26,192.92 121.86,190.85 122.45,192.39 123.05,193.25 123.65,192.03 124.25,191.80 124.84,192.50 125.44,193.03 126.04,192.02 126.64,191.74 127.24,191.85 127.83,192.62 128.43,192.81 129.03,192.51 129.63,189.40 130.23,192.86 130.82,192.01 131.42,191.93 132.02,192.20 132.62,192.71 133.21,190.86 133.81,192.59 134.41,190.72 135.01,192.55 135.61,191.51 136.20,192.25 136.80,192.40 137.40,191.80 138.00,191.74 138.60,190.09 139.19,190.59 139.79,190.17 140.39,191.70 140.99,192.24 141.59,191.92 142.18,190.66 142.78,190.97 143.38,191.43 143.98,191.61 144.57,189.07 145.17,191.93 145.77,191.86 146.37,190.34 146.97,189.76 147.56,191.17 148.16,190.95 148.76,191.49 149.36,191.19 149.96,191.51 150.55,191.58 151.15,191.21 151.75,190.04 152.35,190.45 152.94,191.42 153.54,191.14 154.14,191.04 154.74,187.90 155.34,189.78 155.93,190.38 156.53,191.41 157.13,191.12 157.73,191.28 158.33,190.85 158.92,189.53 159.52,190.62 160.12,189.42 160.72,190.52 161.31,189.65 161.91,190.98 162.51,187.85 163.11,190.51 163.71,189.65 164.30,190.85 164.90,188.76 165.50,191.03 166.10,189.78 166.70,190.81 167.29,189.74 167.89,189.42 168.49,190.63 169.09,190.43 169.69,190.14 170.28,190.89 170.88,190.52 171.48,189.48 172.08,190.80 172.67,188.91 173.27,190.59 173.87,190.38 174.47,190.24 175.07,189.77 175.66,190.18 176.26,188.97 176.86,186.50 177.46,187.67 178.06,182.68 178.65,184.41 179.25,182.97 179.85,186.15 180.45,186.78 181.04,188.05 181.64,189.97 182.24,189.89 182.84,190.95 183.44,190.95 184.03,191.16 184.63,191.91 185.23,191.07 185.83,191.85 186.43,191.81 187.02,192.18 187.62,191.69 188.22,191.82 188.82,192.16 189.41,191.48 190.01,191.99 190.61,192.23 191.21,191.66 191.81,192.00 192.40,192.61 193.00,191.77 193.60,192.53 194.20,192.29 194.80,192.50 195.39,191.52 195.99,192.85 196.59,192.94 197.19,191.62 197.79,192.80 198.38,193.08 198.98,191.34 199.58,191.64 200.18,193.06 200.77,193.14 201.37,190.27 201.97,193.07 202.57,190.39 203.17,193.14 203.76,193.21 204.36,193.05 204.96,191.81 205.56,193.28 206.16,191.47 206.75,192.72 207.35,191.43 207.95,192.76 208.55,192.91 209.14,191.22 209.74,192.39 210.34,193.46 210.94,192.37 211.54,193.43 212.13,192.36 212.73,192.96 213.33,192.64 213.93,191.31 214.53,191.91 215.12,192.28 215.72,193.02 216.32,190.25 216.92,191.88 217.51,193.54 218.11,193.29 218.71,193.75 219.31,192.04 219.91,193.79 220.50,193.67 221.10,192.08 221.70,192.50 222.30,193.58 222.90,193.50 223.49,192.23 224.09,193.19 224.69,192.80 225.29,192.20 225.89,192.63 226.48,192.65 227.08,193.03 227.68,191.57 228.28,192.45 228.87,192.97 229.47,193.57 230.07,193.53 230.67,192.92 231.27,193.76 231.86,194.06 232.46,193.52 233.06,193.37 233.66,194.09 234.26,192.85 234.85,193.98 235.45,192.86 236.05,192.85 236.65,193.06 237.24,193.51 237.84,191.91 238.44,194.31 239.04,193.86 239.64,193.34 240.23,193.81 240.83,193.31 241.43,192.94 242.03,192.41 242.63,194.28 243.22,192.89 243.82,193.73 244.42,193.44 245.02,194.33 245.61,194.31 246.21,194.30 246.81,193.67 247.41,193.04 248.01,193.86 248.60,192.84 249.20,192.63 249.80,194.15 250.40,193.97 251.00,193.81 251.59,194.43 252.19,192.57 252.79,194.66 253.39,194.25 253.99,193.70 254.58,193.32 255.18,192.43 255.78,194.59 256.38,194.58 256.97,193.09 257.57,194.20 258.17,194.52 258.77,192.17 259.37,194.06 259.96,192.70 260.56,194.29 261.16,194.14 261.76,194.03 262.36,194.50 262.95,194.31 263.55,194.81 264.15,194.48 264.75,194.76 265.34,194.16 265.94,193.34 266.54,193.30 267.14,194.34 267.74,193.23 268.33,193.07 268.93,194.46 269.53,194.06 270.13,194.01 270.73,190.27 271.32,193.69 271.92,194.89 272.52,194.55 273.12,194.87 273.71,192.56 274.31,193.01 274.91,194.60 275.51,192.80 276.11,193.99 276.70,194.66 277.30,193.75 277.90,194.83 278.50,194.61 279.10,193.27 279.69,194.39 280.29,193.97 280.89,194.97 281.49,194.13 282.09,194.59 282.68,194.02 283.28,193.41 283.88,193.67 284.48,194.15 285.07,194.28 285.67,194.79 286.27,193.33 286.87,193.42 287.47,194.73 288.06,195.03 288.66,190.84 289.26,192.18 289.86,194.29 290.46,194.80 291.05,193.61 291.65,193.15 292.25,193.20 292.85,194.57 293.44,193.65 294.04,193.56 294.64,194.43 295.24,193.95 295.84,194.00 296.43,194.03 297.03,194.47 297.63,194.04 298.23,193.82 298.83,194.12 299.42,194.80 300.02,194.42 300.62,194.14 301.22,194.84 301.81,194.66 302.41,194.32 303.01,194.91 303.61,194.59 304.21,194.02 304.80,194.30 305.40,194.00 306.00,193.00 L306.00,201.84 305.40,201.00 304.80,201.06 304.21,201.07 303.61,201.92 303.01,201.92 302.41,202.49 301.81,201.28 301.22,202.71 300.62,201.72 300.02,201.83 299.42,204.84 298.83,200.78 298.23,200.83 297.63,205.08 297.03,202.09 296.43,201.38 295.84,200.77 295.24,202.97 294.64,201.08 294.04,201.56 293.44,201.34 292.85,201.69 292.25,202.25 291.65,203.00 291.05,202.21 290.46,202.91 289.86,200.99 289.26,201.23 288.66,201.44 288.06,200.64 287.47,201.36 286.87,201.95 286.27,201.57 285.67,201.42 285.07,202.28 284.48,201.19 283.88,201.13 283.28,200.60 282.68,201.25 282.09,201.94 281.49,203.54 280.89,200.79 280.29,201.11 279.69,201.35 279.10,201.88 278.50,202.05 277.90,202.10 277.30,202.29 276.70,201.95 276.11,202.14 275.51,202.47 274.91,201.44 274.31,201.10 273.71,201.17 273.12,201.95 272.52,201.73 271.92,201.21 271.32,202.03 270.73,201.57 270.13,200.90 269.53,200.57 268.93,201.03 268.33,200.82 267.74,201.20 267.14,201.05 266.54,201.69 265.94,201.76 265.34,201.23 264.75,200.54 264.15,202.14 263.55,200.96 262.95,201.54 262.36,203.69 261.76,201.32 261.16,201.15 260.56,202.52 259.96,200.87 259.37,201.12 258.77,201.72 258.17,201.11 257.57,201.74 256.97,201.15 256.38,202.46 255.78,201.16 255.18,201.06 254.58,202.78 253.99,201.02 253.39,202.84 252.79,201.38 252.19,202.56 251.59,202.56 251.00,200.36 250.40,200.94 249.80,200.72 249.20,201.63 248.60,200.69 248.01,200.77 247.41,201.57 246.81,201.05 246.21,201.04 245.61,200.46 245.02,200.34 244.42,200.23 243.82,201.92 243.22,200.69 242.63,200.84 242.03,201.35 241.43,200.38 240.83,201.15 240.23,201.04 239.64,201.57 239.04,200.90 238.44,201.31 237.84,200.74 237.24,200.44 236.65,200.99 236.05,200.28 235.45,199.99 234.85,200.71 234.26,200.29 233.66,199.91 233.06,201.53 232.46,201.54 231.86,200.47 231.27,199.84 230.67,199.75 230.07,201.48 229.47,200.61 228.87,201.60 228.28,201.47 227.68,201.90 227.08,200.29 226.48,199.67 225.89,199.96 225.29,200.09 224.69,200.51 224.09,201.68 223.49,199.56 222.90,200.34 222.30,200.58 221.70,199.85 221.10,200.10 220.50,200.61 219.91,199.77 219.31,199.39 218.71,200.84 218.11,201.61 217.51,200.23 216.92,199.70 216.32,199.68 215.72,200.67 215.12,201.42 214.53,200.05 213.93,200.72 213.33,199.76 212.73,199.36 212.13,200.58 211.54,199.56 210.94,199.51 210.34,199.92 209.74,199.76 209.14,200.69 208.55,199.73 207.95,201.42 207.35,201.48 206.75,199.62 206.16,199.24 205.56,200.93 204.96,199.98 204.36,198.97 203.76,200.59 203.17,199.16 202.57,199.08 201.97,199.44 201.37,200.16 200.77,199.15 200.18,201.24 199.58,199.79 198.98,198.99 198.38,199.16 197.79,198.82 197.19,201.07 196.59,198.66 195.99,200.60 195.39,198.53 194.80,200.10 194.20,198.98 193.60,199.07 193.00,198.62 192.40,198.50 191.81,199.55 191.21,198.54 190.61,200.57 190.01,201.33 189.41,198.68 188.82,199.72 188.22,198.67 187.62,198.11 187.02,200.56 186.43,198.52 185.83,198.01 185.23,200.47 184.63,199.62 184.03,199.66 183.44,198.14 182.84,198.46 182.24,197.46 181.64,197.15 181.04,196.11 180.45,195.81 179.85,193.40 179.25,190.89 178.65,191.05 178.06,192.78 177.46,193.86 176.86,197.07 176.26,196.32 175.66,196.92 175.07,196.72 174.47,196.91 173.87,199.40 173.27,198.83 172.67,196.81 172.08,197.27 171.48,197.49 170.88,197.90 170.28,200.16 169.69,197.31 169.09,197.03 168.49,197.15 167.89,196.86 167.29,198.41 166.70,197.47 166.10,197.22 165.50,198.55 164.90,197.89 164.30,198.41 163.71,198.16 163.11,197.39 162.51,198.52 161.91,198.44 161.31,196.99 160.72,197.64 160.12,197.89 159.52,197.47 158.92,198.03 158.33,196.99 157.73,197.92 157.13,198.31 156.53,197.72 155.93,197.98 155.34,198.98 154.74,197.13 154.14,197.94 153.54,197.74 152.94,198.71 152.35,197.23 151.75,197.48 151.15,200.02 150.55,197.73 149.96,198.11 149.36,198.05 148.76,198.00 148.16,197.60 147.56,197.88 146.97,198.50 146.37,199.58 145.77,197.64 145.17,198.85 144.57,197.93 143.98,199.22 143.38,198.10 142.78,199.43 142.18,199.76 141.59,198.02 140.99,198.75 140.39,200.16 139.79,198.83 139.19,198.15 138.60,198.12 138.00,199.70 137.40,199.19 136.80,198.19 136.20,199.03 135.61,198.83 135.01,199.08 134.41,198.30 133.81,198.37 133.21,199.20 132.62,199.78 132.02,198.92 131.42,198.68 130.82,200.02 130.23,199.31 129.63,199.01 129.03,199.47 128.43,199.06 127.83,198.79 127.24,200.43 126.64,199.36 126.04,200.16 125.44,198.86 124.84,199.54 124.25,200.06 123.65,201.82 123.05,199.61 122.45,201.57 121.86,199.92 121.26,199.34 120.66,199.31 120.06,199.32 119.46,200.17 118.87,200.53 118.27,199.81 117.67,200.43 117.07,201.36 116.47,199.43 115.88,201.39 115.28,200.58 114.68,199.86 114.08,201.87 113.49,201.46 112.89,199.77 112.29,201.95 111.69,200.74 111.09,201.03 110.50,201.02 109.90,200.69 109.30,199.88 108.70,200.28 108.10,201.55 107.51,201.81 106.91,201.62 106.31,200.18 105.71,200.56 105.11,200.86 104.52,200.10 103.92,199.98 103.32,199.88 102.72,200.13 102.13,200.02 101.53,200.26 100.93,200.23 100.33,199.94 99.73,200.66 99.14,201.06 98.54,200.31 97.94,200.72 97.34,200.23 96.74,200.12 96.15,199.97 95.55,200.21 94.95,200.65 94.35,200.63 93.76,200.65 93.16,201.54 92.56,202.23 91.96,200.19 91.36,200.09 90.77,200.68 90.17,200.71 89.57,200.99 88.97,200.34 88.37,200.07 87.78,201.60 87.18,201.12 86.58,200.41 85.98,200.76 85.39,200.15 84.79,200.99 84.19,201.82 83.59,203.40 82.99,200.22 82.40,203.18 81.80,201.14 81.20,200.51 80.60,201.25 80.00,200.23 79.41,200.96 78.81,202.32 78.21,201.24 77.61,202.76 77.01,200.13 76.42,201.86 75.82,200.32 75.22,200.84 74.62,200.02 74.03,200.32 73.43,200.24 72.83,200.83 72.23,200.60 71.63,201.55 71.04,201.20 70.44,200.22 69.84,200.30 69.24,201.52 68.64,201.87 68.05,201.93 67.45,200.82 66.85,200.53 66.25,201.58 65.66,200.46 65.06,202.79 64.46,201.54 63.86,200.48 63.26,200.91 62.67,201.56 62.07,200.30 61.47,202.84 60.87,201.18 60.27,200.09 59.68,201.64 59.08,202.85 58.48,201.25 57.88,200.83 57.29,201.60 56.69,204.74 56.09,202.75 55.49,201.73 54.89,202.63 54.30,201.40 53.70,200.19 53.10,200.96 52.50,201.02 51.90,200.90 51.31,200.33 50.71,200.59 50.11,200.21 49.51,200.71 48.91,201.10 48.32,200.39 47.72,200.55 47.12,201.50 46.52,200.57 45.93,200.29 45.33,200.38 44.73,200.48 44.13,200.84 43.53,200.59 42.94,200.35 42.34,201.00 41.74,200.82 41.14,201.67 40.54,200.37 39.95,200.50 39.35,202.26 38.75,200.62 38.15,200.35 37.56,202.02 36.96,203.10 36.36,201.96 35.76,200.34 35.16,203.78 34.57,203.98 33.97,202.46 33.37,200.64 32.77,200.44 32.17,200.29 31.58,200.73 30.98,201.51 30.38,202.07 29.78,200.59 29.19,202.73 28.59,201.49 27.99,200.81 27.39,201.87 26.79,200.58 26.20,200.75 25.60,201.12 25.00,201.02Z" fill="#f00" stroke="none"/>
<path d="M25.00,195.63 25.31,198.00 25.62,197.95 25.94,198.56 26.25,196.44 26.56,202.50 26.87,199.16 27.19,197.10 27.50,199.75 27.81,197.84 28.12,198.60 28.43,196.50 28.75,199.56 29.06,197.34 29.37,197.37 29.68,198.26 30.00,196.94 30.31,199.88 30.62,196.98 30.93,199.37 31.24,197.05 31.56,195.15 31.87,198.21 32.18,197.88 32.49,198.24 32.81,196.50 33.12,195.05 33.43,199.34 33.74,199.84 34.05,197.08 34.37,197.41 34.68,194.67 34.99,198.14 35.30,195.28 35.62,197.94 35.93,199.88 36.24,196.61 36.55,196.61 36.86,195.56 37.18,196.23 37.49,195.73 37.80,199.00 38.11,196.15 38.43,198.84 38.74,199.17 39.05,197.25 39.36,197.23 39.67,197.44 39.99,196.45 40.30,200.92 40.61,194.37 40.92,197.33 41.24,200.03 41.55,195.82 41.86,201.19 42.17,196.15 42.48,198.16 42.80,200.10 43.11,200.21 43.42,197.79 43.73,200.02 44.05,195.53 44.36,199.34 44.67,195.66 44.98,197.61 45.29,195.93 45.61,197.20 45.92,198.21 46.23,199.71 46.54,199.92 46.86,200.10 47.17,199.45 47.48,196.98 47.79,201.20 48.10,197.93 48.42,197.24 48.73,194.73 49.04,195.99 49.35,196.93 49.67,197.45 49.98,194.23 50.29,197.37 50.60,196.18 50.91,197.18 51.23,196.90 51.54,197.22 51.85,198.15 52.16,198.95 52.48,195.42 52.79,197.56 53.10,197.08 53.41,202.01 53.72,198.28 54.04,198.03 54.35,197.29 54.66,195.57 54.97,199.81 55.29,194.35 55.60,194.48 55.91,197.24 56.22,194.89 56.53,199.58 56.85,200.07 57.16,196.82 57.47,194.27 57.78,200.58 58.10,200.65 58.41,197.42 58.72,198.67 59.03,196.87 59.34,196.67 59.66,196.57 59.97,193.49 60.28,200.21 60.59,198.39 60.91,197.96 61.22,197.93 61.53,198.25 61.84,198.08 62.15,202.23 62.47,195.42 62.78,195.76 63.09,198.27 63.40,194.52 63.72,199.07 64.03,196.98 64.34,193.00 64.65,196.41 64.96,195.61 65.28,201.45 65.59,195.66 65.90,198.77 66.21,196.45 66.53,197.85 66.84,195.38 67.15,199.76 67.46,198.75 67.77,195.16 68.09,199.72 68.40,198.20 68.71,195.62 69.02,194.98 69.34,197.20 69.65,197.94 69.96,195.73 70.27,196.97 70.58,199.03 70.90,193.71 71.21,200.33 71.52,198.59 71.83,195.20 72.15,197.86 72.46,193.36 72.77,198.25 73.08,201.19 73.39,199.84 73.71,199.07 74.02,196.17 74.33,200.76 74.64,196.65 74.96,196.20 75.27,194.94 75.58,196.64 75.89,194.64 76.20,197.56 76.52,195.77 76.83,195.80 77.14,197.92 77.45,200.32 77.77,197.21 78.08,196.03 78.39,196.26 78.70,198.42 79.01,194.20 79.33,197.42 79.64,194.53 79.95,196.19 80.26,199.93 80.58,197.07 80.89,199.64 81.20,198.09 81.51,194.97 81.82,199.60 82.14,194.33 82.45,195.22 82.76,197.63 83.07,196.78 83.39,199.36 83.70,200.39 84.01,199.08 84.32,197.18 84.63,197.94 84.95,198.35 85.26,198.55 85.57,195.78 85.88,199.56 86.20,196.41 86.51,198.33 86.82,194.78 87.13,197.49 87.44,195.18 87.76,196.96 88.07,191.65 88.38,195.48 88.69,195.17 89.01,199.55 89.32,194.25 89.63,198.44 89.94,194.26 90.25,199.30 90.57,200.25 90.88,196.93 91.19,197.09 91.50,196.46 91.82,195.89 92.13,194.28 92.44,198.97 92.75,199.98 93.06,199.04 93.38,193.07 93.69,196.02 94.00,197.75 94.31,197.19 94.63,197.40 94.94,191.51 95.25,196.99 95.56,195.41 95.87,198.85 96.19,199.41 96.50,199.59 96.81,196.07 97.12,198.37 97.44,198.28 97.75,194.23 98.06,194.24 98.37,195.64 98.68,199.14 99.00,199.43 99.31,194.56 99.62,195.82 99.93,196.07 100.25,199.01 100.56,198.90 100.87,198.27 101.18,194.50 101.49,197.45 101.81,194.30 102.12,197.18 102.43,190.67 102.74,195.03 103.06,198.60 103.37,199.47 103.68,196.91 103.99,193.53 104.30,197.75 104.62,198.40 104.93,196.25 105.24,194.33 105.55,195.39 105.87,200.33 106.18,195.57 106.49,197.56 106.80,195.66 107.11,197.29 107.43,196.87 107.74,191.80 108.05,196.56 108.36,194.43 108.68,200.99 108.99,199.77 109.30,199.61 109.61,194.29 109.92,196.88 110.24,196.19 110.55,196.02 110.86,199.05 111.17,195.82 111.49,196.09 111.80,198.62 112.11,195.31 112.42,196.19 112.73,192.72 113.05,196.76 113.36,198.10 113.67,195.88 113.98,196.26 114.30,197.26 114.61,196.81 114.92,197.45 115.23,192.91 115.54,194.97 115.86,198.12 116.17,195.07 116.48,195.85 116.79,195.54 117.11,198.24 117.42,196.33 117.73,199.61 118.04,195.58 118.35,196.15 118.67,199.16 118.98,198.36 119.29,192.49 119.60,196.83 119.92,195.87 120.23,193.76 120.54,196.25 120.85,199.07 121.16,193.05 121.48,196.94 121.79,196.07 122.10,202.14 122.41,201.57 122.73,194.41 123.04,195.20 123.35,197.03 123.66,192.92 123.97,197.24 124.29,195.92 124.60,195.82 124.91,196.88 125.22,201.08 125.54,195.29 125.85,195.85 126.16,192.87 126.47,194.47 126.78,196.79 127.10,195.39 127.41,195.68 127.72,194.96 128.03,194.27 128.35,193.94 128.66,197.06 128.97,195.98 129.28,193.06 129.59,197.31 129.91,197.36 130.22,195.61 130.53,195.21 130.84,198.71 131.16,193.09 131.47,196.41 131.78,197.62 132.09,192.93 132.40,193.88 132.72,196.39 133.03,194.58 133.34,193.01 133.65,194.34 133.97,193.52 134.28,195.30 134.59,194.01 134.90,196.20 135.21,193.54 135.53,194.84 135.84,195.69 136.15,196.60 136.46,193.08 136.78,194.14 137.09,193.97 137.40,197.58 137.71,196.20 138.02,193.94 138.34,195.14 138.65,195.42 138.96,194.72 139.27,197.90 139.59,191.67 139.90,199.06 140.21,198.03 140.52,196.82 140.83,194.37 141.15,191.69 141.46,196.51 141.77,198.43 142.08,196.36 142.40,197.77 142.71,195.17 143.02,197.04 143.33,195.55 143.64,194.26 143.96,192.48 144.27,193.84 144.58,196.03 144.89,196.18 145.21,195.71 145.52,195.12 145.83,196.19 146.14,195.73 146.45,195.59 146.77,193.93 147.08,195.19 147.39,194.39 147.70,193.00 148.02,195.05 148.33,192.07 148.64,193.95 148.95,191.37 149.26,192.66 149.58,196.88 149.89,198.29 150.20,195.42 150.51,193.63 150.83,190.01 151.14,193.77 151.45,195.41 151.76,194.29 152.07,193.16 152.39,195.69 152.70,193.14 153.01,194.89 153.32,193.77 153.64,193.47 153.95,197.86 154.26,197.20 154.57,195.80 154.88,192.29 155.20,195.89 155.51,194.94 155.82,195.60 156.13,196.55 156.45,192.01 156.76,194.86 157.07,194.76 157.38,195.24 157.69,195.02 158.01,193.68 158.32,196.56 158.63,192.37 158.94,198.57 159.26,196.20 159.57,195.24 159.88,191.64 160.19,191.56 160.50,191.29 160.82,194.48 161.13,195.00 161.44,195.38 161.75,194.30 162.07,193.68 162.38,189.69 162.69,192.83 163.00,195.13 163.31,193.36 163.63,196.20 163.94,193.89 164.25,196.44 164.56,196.58 164.88,188.25 165.19,192.72 165.50,196.61 165.81,196.58 166.12,193.64 166.44,194.36 166.75,195.70 167.06,196.72 167.37,196.57 167.69,192.12 168.00,192.63 168.31,192.00 168.62,193.09 168.93,195.57 169.25,194.72 169.56,194.20 169.87,193.85 170.18,198.11 170.50,195.05 170.81,192.81 171.12,194.72 171.43,193.30 171.74,193.11 172.06,192.79 172.37,188.47 172.68,190.97 172.99,193.32 173.31,190.55 173.62,191.54 173.93,190.35 174.24,189.31 174.55,193.64 174.87,192.94 175.18,190.32 175.49,193.70 175.80,196.82 176.12,193.79 176.43,192.59 176.74,189.44 177.05,192.73 177.36,192.21 177.68,186.63 177.99,188.22 178.30,190.43 178.61,187.67 178.93,182.26 179.24,188.01 179.55,188.48 179.86,189.35 180.17,189.53 180.49,192.59 180.80,192.84 181.11,197.16 181.42,193.60 181.74,194.57 182.05,194.27 182.36,192.37 182.67,194.54 182.98,194.64 183.30,190.72 183.61,199.50 183.92,195.45 184.23,196.63 184.55,195.73 184.86,195.03 185.17,196.23 185.48,198.20 185.79,196.77 186.11,194.25 186.42,196.73 186.73,196.66 187.04,193.88 187.36,195.80 187.67,196.06 187.98,194.75 188.29,195.77 188.60,194.24 188.92,193.63 189.23,194.36 189.54,193.36 189.85,201.12 190.17,197.61 190.48,195.35 190.79,192.73 191.10,197.26 191.41,197.64 191.73,192.36 192.04,194.84 192.35,198.25 192.66,196.60 192.98,198.97 193.29,194.43 193.60,194.87 193.91,194.48 194.22,193.53 194.54,193.44 194.85,195.77 195.16,200.01 195.47,195.54 195.79,196.43 196.10,191.44 196.41,196.51 196.72,195.32 197.03,194.32 197.35,192.43 197.66,198.34 197.97,197.88 198.28,195.05 198.60,194.31 198.91,196.06 199.22,194.02 199.53,192.23 199.84,194.04 200.16,199.17 200.47,192.95 200.78,196.05 201.09,195.66 201.41,193.23 201.72,198.44 202.03,200.68 202.34,197.38 202.65,196.48 202.97,198.38 203.28,198.02 203.59,190.79 203.90,197.54 204.22,196.54 204.53,196.89 204.84,197.86 205.15,196.28 205.46,196.89 205.78,194.43 206.09,194.53 206.40,195.99 206.71,195.53 207.03,199.38 207.34,198.77 207.65,196.25 207.96,197.86 208.27,195.63 208.59,193.39 208.90,196.46 209.21,195.95 209.52,197.55 209.84,196.38 210.15,196.19 210.46,196.58 210.77,198.59 211.08,196.88 211.40,196.57 211.71,198.84 212.02,193.75 212.33,191.47 212.65,195.56 212.96,197.84 213.27,193.48 213.58,194.24 213.89,198.83 214.21,195.39 214.52,197.97 214.83,196.47 215.14,196.53 215.46,197.45 215.77,193.16 216.08,197.61 216.39,194.75 216.70,195.68 217.02,193.93 217.33,196.24 217.64,198.69 217.95,199.40 218.27,198.92 218.58,196.40 218.89,196.00 219.20,195.69 219.51,193.58 219.83,201.99 220.14,198.63 220.45,198.92 220.76,196.49 221.08,196.51 221.39,196.77 221.70,196.96 222.01,193.45 222.32,196.84 222.64,197.41 222.95,193.76 223.26,198.73 223.57,195.55 223.89,199.14 224.20,196.23 224.51,195.57 224.82,195.76 225.13,196.22 225.45,197.49 225.76,194.61 226.07,198.49 226.38,195.52 226.70,195.05 227.01,198.07 227.32,193.56 227.63,198.09 227.94,196.73 228.26,197.18 228.57,196.18 228.88,195.94 229.19,197.93 229.51,198.38 229.82,195.46 230.13,197.15 230.44,198.37 230.75,196.02 231.07,198.32 231.38,196.12 231.69,200.76 232.00,197.30 232.32,196.54 232.63,197.29 232.94,194.42 233.25,194.61 233.56,194.53 233.88,198.77 234.19,198.63 234.50,196.96 234.81,192.72 235.13,192.97 235.44,196.07 235.75,200.73 236.06,199.57 236.37,198.76 236.69,193.85 237.00,196.42 237.31,194.01 237.62,196.73 237.94,200.30 238.25,199.60 238.56,194.15 238.87,196.61 239.18,197.34 239.50,194.82 239.81,199.29 240.12,194.80 240.43,197.19 240.75,198.09 241.06,196.57 241.37,192.99 241.68,196.35 241.99,198.77 242.31,195.08 242.62,192.89 242.93,196.68 243.24,196.76 243.56,195.01 243.87,197.33 244.18,198.19 244.49,200.07 244.80,195.44 245.12,196.51 245.43,196.59 245.74,196.74 246.05,198.95 246.37,196.39 246.68,195.25 246.99,200.96 247.30,192.16 247.61,194.51 247.93,198.19 248.24,194.23 248.55,200.46 248.86,196.78 249.18,199.83 249.49,198.46 249.80,195.04 250.11,197.79 250.42,203.11 250.74,196.77 251.05,196.80 251.36,193.84 251.67,199.70 251.99,197.57 252.30,196.08 252.61,197.83 252.92,197.94 253.23,197.30 253.55,200.78 253.86,192.38 254.17,197.29 254.48,197.94 254.80,196.69 255.11,197.93 255.42,199.87 255.73,196.82 256.04,198.75 256.36,200.49 256.67,195.03 256.98,197.31 257.29,198.76 257.61,202.62 257.92,200.55 258.23,194.65 258.54,199.74 258.85,193.38 259.17,197.95 259.48,201.02 259.79,196.48 260.10,198.38 260.42,197.05 260.73,195.27 261.04,197.57 261.35,200.03 261.66,195.44 261.98,199.11 262.29,197.89 262.60,194.22 262.91,197.24 263.23,199.46 263.54,198.33 263.85,202.51 264.16,199.06 264.47,197.46 264.79,196.01 265.10,199.42 265.41,199.81 265.72,199.50 266.04,196.85 266.35,196.51 266.66,196.86 266.97,200.54 267.28,198.62 267.60,197.29 267.91,196.96 268.22,193.70 268.53,197.30 268.85,191.50 269.16,197.64 269.47,198.97 269.78,199.84 270.09,197.23 270.41,196.71 270.72,195.42 271.03,197.31 271.34,197.48 271.66,198.47 271.97,198.04 272.28,198.22 272.59,197.10 272.90,196.96 273.22,198.47 273.53,195.75 273.84,195.47 274.15,198.74 274.47,194.59 274.78,197.86 275.09,196.43 275.40,192.75 275.71,199.42 276.03,194.31 276.34,199.23 276.65,196.07 276.96,197.24 277.28,198.35 277.59,197.41 277.90,195.63 278.21,195.10 278.52,198.09 278.84,197.14 279.15,196.45 279.46,196.62 279.77,197.44 280.09,197.23 280.40,195.49 280.71,198.21 281.02,197.56 281.33,199.38 281.65,197.55 281.96,195.18 282.27,196.12 282.58,199.23 282.90,195.86 283.21,195.89 283.52,195.82 283.83,193.56 284.14,198.87 284.46,197.64 284.77,195.22 285.08,198.12 285.39,198.91 285.71,198.93 286.02,198.70 286.33,199.62 286.64,197.41 286.95,198.53 287.27,196.83 287.58,194.64 287.89,198.00 288.20,199.01 288.52,196.43 288.83,200.75 289.14,200.16 289.45,199.94 289.76,199.32 290.08,197.35 290.39,198.20 290.70,200.50 291.01,198.59 291.33,196.76 291.64,199.82 291.95,198.63 292.26,197.02 292.57,198.47 292.89,198.11 293.20,197.19 293.51,197.03 293.82,196.56 294.14,199.39 294.45,199.15 294.76,196.41 295.07,199.03 295.38,196.39 295.70,196.23 296.01,197.39 296.32,199.13 296.63,194.75 296.95,195.67 297.26,198.76 297.57,196.66 297.88,197.11 298.19,196.27 298.51,197.47 298.82,197.36 299.13,198.13 299.44,195.86 299.76,197.90 300.07,193.78 300.38,200.58 300.69,200.71 301.00,199.33 301.32,197.55 301.63,195.70 301.94,194.62 302.25,200.80 302.57,198.74 302.88,197.15 303.19,200.10 303.50,198.89 303.81,199.77 304.13,199.23 304.44,196.98 304.75,197.07 305.06,198.56 305.38,197.07 305.69,198.97 306.00,196.70" fill="none" stroke="#f00" stroke-width="1.30" stroke-linejoin="miter"/>
<path d="M25.00,163.27 25.60,163.55 26.20,164.66 26.79,162.62 27.39,163.08 27.99,164.56 28.59,163.90 29.19,163.91 29.78,163.83 30.38,161.78 30.98,163.96 31.58,162.69 32.17,162.93 32.77,161.46 33.37,161.86 33.97,164.45 34.57,164.07 35.16,163.88 35.76,163.04 36.36,163.88 36.96,164.45 37.56,164.48 38.15,163.78 38.75,162.37 39.35,162.66 39.95,164.27 40.54,163.87 41.14,164.19 41.74,163.59 42.34,163.48 42.94,164.21 43.53,162.43 44.13,163.97 44.73,164.04 45.33,164.10 45.93,163.44 46.52,161.20 47.12,163.73 47.72,163.88 48.32,163.44 48.91,163.86 49.51,163.64 50.11,163.25 50.71,164.10 51.31,163.17 51.90,162.38 52.50,164.28 53.10,163.38 53.70,161.80 54.30,162.91 54.89,163.98 55.49,163.35 56.09,163.39 56.69,162.94 57.29,163.84 57.88,162.04 58.48,163.58 59.08,163.18 59.68,163.97 60.27,163.21 60.87,163.82 61.47,162.85 62.07,164.13 62.67,163.76 63.26,162.89 63.86,163.40 64.46,163.31 65.06,162.71 65.66,163.05 66.25,162.86 66.85,162.64 67.45,163.99 68.05,160.62 68.64,163.72 69.24,163.05 69.84,163.57 70.44,163.40 71.04,162.62 71.63,162.86 72.23,163.68 72.83,162.52 73.43,163.19 74.03,161.11 74.62,162.98 75.22,162.69 75.82,162.22 76.42,161.93 77.01,163.20 77.61,162.77 78.21,161.93 78.81,161.91 79.41,162.64 80.00,163.10 80.60,163.08 81.20,161.85 81.80,161.00 82.40,163.45 82.99,162.58 83.59,163.15 84.19,162.68 84.79,160.66 85.39,161.87 85.98,162.37 86.58,162.94 87.18,163.41 87.78,163.00 88.37,163.43 88.97,162.32 89.57,162.39 90.17,162.78 90.77,163.09 91.36,161.25 91.96,163.23 92.56,162.54 93.16,163.19 93.76,162.17 94.35,161.36 94.95,162.46 95.55,162.62 96.15,162.88 96.74,161.84 97.34,162.79 97.94,162.71 98.54,162.76 99.14,163.11 99.73,162.82 100.33,162.60 100.93,161.40 101.53,162.67 102.13,160.06 102.72,162.75 103.32,161.58 103.92,160.59 104.52,161.22 105.11,162.58 105.71,161.90 106.31,162.34 106.91,162.37 107.51,161.91 108.10,160.23 108.70,162.27 109.30,162.11 109.90,161.85 110.50,161.56 111.09,161.92 111.69,161.93 112.29,161.33 112.89,161.25 113.49,159.65 114.08,161.53 114.68,160.45 115.28,161.16 115.88,160.45 116.47,161.61 117.07,161.92 117.67,160.59 118.27,161.45 118.87,162.01 119.46,160.70 120.06,161.93 120.66,160.95 121.26,161.77 121.86,160.30 122.45,161.16 123.05,161.98 123.65,159.42 124.25,161.55 124.84,161.48 125.44,161.25 126.04,161.05 126.64,159.90 127.24,160.95 127.83,161.26 128.43,161.46 129.03,161.52 129.63,160.37 130.23,161.34 130.82,159.89 131.42,160.69 132.02,160.73 132.62,160.41 133.21,160.09 133.81,159.33 134.41,160.15 135.01,159.13 135.61,158.02 136.20,159.62 136.80,158.54 137.40,158.66 138.00,156.47 138.60,158.15 139.19,156.74 139.79,156.10 140.39,157.62 140.99,157.83 141.59,157.90 142.18,157.21 142.78,157.29 143.38,157.38 143.98,156.56 144.57,155.83 145.17,155.61 145.77,156.75 146.37,154.93 146.97,156.00 147.56,154.79 148.16,155.06 148.76,155.03 149.36,155.47 149.96,153.93 150.55,154.88 151.15,154.58 151.75,152.90 152.35,153.90 152.94,155.02 153.54,155.19 154.14,155.45 154.74,154.94 155.34,154.83 155.93,154.96 156.53,155.48 157.13,154.76 157.73,154.17 158.33,153.71 158.92,154.17 159.52,154.62 160.12,154.86 160.72,154.86 161.31,155.37 161.91,153.85 162.51,153.17 163.11,153.62 163.71,154.84 164.30,155.13 164.90,154.76 165.50,153.33 166.10,154.92 166.70,153.08 167.29,154.46 167.89,154.04 168.49,153.24 169.09,151.54 169.69,152.59 170.28,153.78 170.88,154.73 171.48,154.24 172.08,152.09 172.67,152.73 173.27,149.45 173.87,146.07 174.47,136.11 175.07,125.78 175.66,109.49 176.26,91.32 176.86,73.81 177.46,60.61 178.06,67.21 178.65,80.95 179.25,102.25 179.85,120.53 180.45,134.70 181.04,145.09 181.64,149.70 182.24,154.54 182.84,156.21 183.44,155.37 184.03,156.40 184.63,156.78 185.23,156.86 185.83,158.05 186.43,157.53 187.02,158.61 187.62,158.64 188.22,158.25 188.82,158.59 189.41,157.58 190.01,158.45 190.61,158.73 191.21,158.54 191.81,158.88 192.40,159.27 193.00,158.30 193.60,158.64 194.20,159.37 194.80,159.13 195.39,159.19 195.99,159.85 196.59,160.35 197.19,160.14 197.79,160.61 198.38,160.88 198.98,159.34 199.58,159.36 200.18,160.17 200.77,160.29 201.37,160.67 201.97,161.05 202.57,160.53 203.17,159.81 203.76,159.97 204.36,160.34 204.96,158.56 205.56,161.80 206.16,159.60 206.75,160.62 207.35,161.17 207.95,161.28 208.55,161.94 209.14,161.56 209.74,162.19 210.34,162.49 210.94,161.79 211.54,159.36 212.13,162.43 212.73,162.41 213.33,160.16 213.93,162.19 214.53,161.63 215.12,160.90 215.72,162.89 216.32,161.46 216.92,161.64 217.51,161.39 218.11,162.94 218.71,161.76 219.31,162.35 219.91,159.70 220.50,162.19 221.10,161.90 221.70,163.07 222.30,162.14 222.90,159.30 223.49,162.71 224.09,162.21 224.69,162.86 225.29,162.74 225.89,162.32 226.48,162.39 227.08,161.76 227.68,161.42 228.28,162.92 228.87,163.58 229.47,162.47 230.07,162.48 230.67,162.68 231.27,163.67 231.86,163.66 232.46,163.13 233.06,162.37 233.66,162.29 234.26,162.92 234.85,162.82 235.45,163.75 236.05,161.18 236.65,163.24 237.24,163.32 237.84,163.68 238.44,163.24 239.04,162.67 239.64,163.73 240.23,163.24 240.83,163.15 241.43,163.14 242.03,163.74 242.63,160.58 243.22,162.12 243.82,162.29 244.42,162.44 245.02,162.12 245.61,163.49 246.21,163.51 246.81,162.83 247.41,163.54 248.01,162.05 248.60,163.26 249.20,163.70 249.80,163.53 250.40,163.88 251.00,162.36 251.59,162.95 252.19,161.69 252.79,163.09 253.39,162.32 253.99,162.18 254.58,163.74 255.18,162.79 255.78,162.59 256.38,162.69 256.97,163.73 257.57,163.10 258.17,162.57 258.77,161.37 259.37,163.48 259.96,163.75 260.56,164.01 261.16,161.09 261.76,161.76 262.36,163.98 262.95,162.83 263.55,163.52 264.15,162.87 264.75,163.79 265.34,163.96 265.94,163.17 266.54,162.89 267.14,163.81 267.74,163.89 268.33,163.82 268.93,162.31 269.53,163.73 270.13,162.65 270.73,163.94 271.32,162.97 271.92,163.79 272.52,163.31 273.12,163.85 273.71,162.32 274.31,162.55 274.91,163.59 275.51,164.20 276.11,163.98 276.70,163.81 277.30,164.19 277.90,161.71 278.50,163.93 279.10,164.26 279.69,163.81 280.29,163.44 280.89,162.63 281.49,163.44 282.09,160.19 282.68,163.74 283.28,164.24 283.88,163.72 284.48,162.81 285.07,163.36 285.67,163.46 286.27,163.11 286.87,164.10 287.47,163.31 288.06,162.86 288.66,164.08 289.26,164.41 289.86,164.43 290.46,164.04 291.05,163.17 291.65,160.96 292.25,163.30 292.85,163.72 293.44,164.05 294.04,163.37 294.64,163.66 295.24,164.55 295.84,163.88 296.43,163.98 297.03,163.27 297.63,164.11 298.23,164.36 298.83,163.06 299.42,164.56 300.02,163.60 300.62,163.06 301.22,161.96 301.81,162.04 302.41,163.89 303.01,164.51 303.61,164.57 304.21,163.29 304.80,163.35 305.40,163.20 306.00,163.84 L306.00,170.51 305.40,170.40 304.80,171.01 304.21,170.77 303.61,170.53 303.01,171.16 302.41,172.79 301.81,171.57 301.22,171.14 300.62,170.98 300.02,170.63 299.42,170.95 298.83,172.39 298.23,170.67 297.63,170.63 297.03,171.29 296.43,172.31 295.84,170.17 295.24,170.80 294.64,170.20 294.04,170.34 293.44,170.57 292.85,171.96 292.25,171.86 291.65,171.22 291.05,170.21 290.46,171.24 289.86,170.75 289.26,170.31 288.66,171.80 288.06,171.05 287.47,170.46 286.87,170.24 286.27,171.07 285.67,170.39 285.07,170.09 284.48,170.31 283.88,170.11 283.28,171.99 282.68,172.38 282.09,170.61 281.49,170.55 280.89,171.11 280.29,170.26 279.69,171.08 279.10,171.31 278.50,171.59 277.90,173.42 277.30,170.13 276.70,170.43 276.11,169.94 275.51,173.08 274.91,170.06 274.31,170.13 273.71,170.01 273.12,171.76 272.52,171.06 271.92,170.57 271.32,169.87 270.73,170.73 270.13,171.44 269.53,171.09 268.93,171.92 268.33,170.86 267.74,172.69 267.14,170.84 266.54,171.82 265.94,171.19 265.34,171.22 264.75,170.19 264.15,170.31 263.55,170.05 262.95,170.85 262.36,170.93 261.76,169.77 261.16,170.84 260.56,171.38 259.96,172.29 259.37,170.52 258.77,171.40 258.17,169.87 257.57,170.74 256.97,170.00 256.38,170.01 255.78,171.08 255.18,170.59 254.58,172.41 253.99,170.05 253.39,170.20 252.79,169.83 252.19,169.98 251.59,170.29 251.00,169.67 250.40,170.24 249.80,173.17 249.20,169.75 248.60,169.96 248.01,171.01 247.41,169.68 246.81,169.83 246.21,169.81 245.61,169.57 245.02,169.73 244.42,169.69 243.82,170.54 243.22,170.29 242.63,170.41 242.03,169.84 241.43,170.18 240.83,172.89 240.23,171.36 239.64,169.48 239.04,169.91 238.44,169.65 237.84,170.68 237.24,171.04 236.65,169.49 236.05,169.81 235.45,169.98 234.85,169.98 234.26,170.05 233.66,169.71 233.06,170.36 232.46,170.28 231.86,170.30 231.27,170.04 230.67,169.97 230.07,171.71 229.47,169.35 228.87,170.17 228.28,169.89 227.68,171.05 227.08,171.47 226.48,169.41 225.89,169.50 225.29,169.40 224.69,169.43 224.09,169.18 223.49,170.50 222.90,169.68 222.30,170.00 221.70,169.75 221.10,169.21 220.50,171.01 219.91,169.06 219.31,168.80 218.71,171.09 218.11,169.14 217.51,169.23 216.92,168.75 216.32,169.33 215.72,172.11 215.12,169.46 214.53,169.55 213.93,168.82 213.33,170.31 212.73,169.31 212.13,168.61 211.54,169.89 210.94,169.38 210.34,169.40 209.74,168.81 209.14,168.47 208.55,169.86 207.95,168.58 207.35,168.68 206.75,169.49 206.16,168.50 205.56,168.41 204.96,169.36 204.36,169.01 203.76,167.50 203.17,168.31 202.57,169.06 201.97,167.49 201.37,168.21 200.77,168.35 200.18,167.68 199.58,168.38 198.98,168.05 198.38,167.21 197.79,167.27 197.19,166.79 196.59,167.16 195.99,168.24 195.39,167.41 194.80,167.56 194.20,166.03 193.60,165.85 193.00,168.04 192.40,165.49 191.81,165.40 191.21,165.89 190.61,167.05 190.01,166.03 189.41,164.92 188.82,165.25 188.22,167.13 187.62,165.66 187.02,165.09 186.43,165.51 185.83,164.71 185.23,164.95 184.63,166.57 184.03,164.19 183.44,164.60 182.84,163.62 182.24,162.06 181.64,157.90 181.04,151.93 180.45,140.88 179.85,127.34 179.25,108.97 178.65,91.12 178.06,75.27 177.46,70.10 176.86,82.63 176.26,98.56 175.66,117.50 175.07,132.21 174.47,145.95 173.87,152.49 173.27,158.55 172.67,161.50 172.08,160.89 171.48,160.58 170.88,160.45 170.28,161.11 169.69,160.77 169.09,162.65 168.49,161.80 167.89,161.37 167.29,161.61 166.70,160.89 166.10,163.10 165.50,161.04 164.90,162.07 164.30,161.16 163.71,162.89 163.11,162.11 162.51,160.97 161.91,161.12 161.31,161.07 160.72,162.95 160.12,161.62 159.52,162.87 158.92,164.12 158.33,162.15 157.73,162.72 157.13,161.46 156.53,162.19 155.93,161.58 155.34,161.31 154.74,161.28 154.14,162.16 153.54,161.67 152.94,161.53 152.35,161.37 151.75,161.44 151.15,162.17 150.55,162.38 149.96,162.15 149.36,164.02 148.76,164.61 148.16,163.19 147.56,166.07 146.97,162.54 146.37,163.35 145.77,164.35 145.17,163.09 144.57,164.37 143.98,165.59 143.38,163.40 142.78,164.18 142.18,166.70 141.59,164.41 140.99,166.01 140.39,164.31 139.79,164.83 139.19,167.51 138.60,165.75 138.00,166.38 137.40,165.93 136.80,167.10 136.20,166.06 135.61,167.70 135.01,166.02 134.41,167.15 133.81,167.11 133.21,167.73 132.62,168.01 132.02,167.50 131.42,166.99 130.82,167.88 130.23,167.75 129.63,170.20 129.03,167.35 128.43,168.09 127.83,168.05 127.24,169.58 126.64,168.74 126.04,168.41 125.44,168.44 124.84,168.88 124.25,168.24 123.65,168.91 123.05,168.64 122.45,167.72 121.86,169.27 121.26,168.99 120.66,169.27 120.06,168.28 119.46,170.00 118.87,168.26 118.27,168.02 117.67,168.22 117.07,169.04 116.47,168.45 115.88,168.90 115.28,169.34 114.68,169.55 114.08,168.52 113.49,169.05 112.89,169.00 112.29,168.79 111.69,168.85 111.09,169.22 110.50,168.36 109.90,168.31 109.30,169.56 108.70,170.63 108.10,170.33 107.51,169.41 106.91,168.61 106.31,169.79 105.71,169.22 105.11,170.22 104.52,169.50 103.92,168.91 103.32,170.59 102.72,169.64 102.13,169.88 101.53,169.52 100.93,168.88 100.33,171.47 99.73,169.90 99.14,169.77 98.54,170.48 97.94,169.05 97.34,171.80 96.74,172.02 96.15,170.66 95.55,169.81 94.95,169.47 94.35,171.07 93.76,170.34 93.16,169.24 92.56,170.97 91.96,170.67 91.36,170.20 90.77,169.04 90.17,169.41 89.57,169.09 88.97,170.83 88.37,169.37 87.78,169.13 87.18,170.87 86.58,169.23 85.98,169.35 85.39,169.94 84.79,171.22 84.19,170.91 83.59,171.18 82.99,169.38 82.40,169.96 81.80,169.37 81.20,169.39 80.60,169.46 80.00,170.67 79.41,170.44 78.81,169.41 78.21,170.57 77.61,170.28 77.01,170.35 76.42,170.70 75.82,170.90 75.22,169.84 74.62,169.85 74.03,170.25 73.43,170.06 72.83,169.71 72.23,170.94 71.63,170.59 71.04,171.35 70.44,169.68 69.84,170.66 69.24,171.01 68.64,172.00 68.05,171.13 67.45,169.97 66.85,169.98 66.25,170.88 65.66,171.24 65.06,171.24 64.46,169.79 63.86,170.65 63.26,170.60 62.67,170.21 62.07,169.99 61.47,170.18 60.87,171.37 60.27,171.33 59.68,169.95 59.08,170.63 58.48,170.03 57.88,169.92 57.29,169.97 56.69,170.55 56.09,171.80 55.49,171.15 54.89,170.64 54.30,170.05 53.70,171.39 53.10,170.00 52.50,172.17 51.90,171.37 51.31,170.01 50.71,171.71 50.11,170.49 49.51,170.28 48.91,171.96 48.32,171.01 47.72,170.74 47.12,170.38 46.52,170.30 45.93,171.86 45.33,170.94 44.73,171.25 44.13,171.60 43.53,172.22 42.94,170.25 42.34,172.46 41.74,170.39 41.14,171.63 40.54,171.31 39.95,170.10 39.35,171.58 38.75,171.22 38.15,171.24 37.56,170.94 36.96,173.25 36.36,171.44 35.76,171.85 35.16,170.46 34.57,173.70 33.97,170.19 33.37,170.40 32.77,170.22 32.17,170.65 31.58,170.29 30.98,171.43 30.38,170.26 29.78,171.65 29.19,170.91 28.59,171.43 27.99,171.04 27.39,171.38 26.79,170.42 26.20,170.34 25.60,171.86 25.00,171.88Z" fill="#00f" stroke="none"/>
<path d="M25.00,169.07 25.31,168.71 25.62,167.65 25.94,170.69 26.25,166.30 26.56,170.27 26.87,170.55 27.19,167.98 27.50,166.37 27.81,166.19 28.12,167.97 28.43,163.48 28.75,169.99 29.06,165.71 29.37,164.96 29.68,168.41 30.00,167.55 30.31,165.67 30.62,170.02 30.93,165.05 31.24,166.24 31.56,164.22 31.87,170.86 32.18,168.54 32.49,164.50 32.81,168.38 33.12,166.15 33.43,165.66 33.74,167.01 34.05,163.43 34.37,167.73 34.68,167.34 34.99,170.32 35.30,165.58 35.62,164.54 35.93,165.42 36.24,166.15 36.55,168.99 36.86,171.76 37.18,168.48 37.49,168.16 37.80,165.05 38.11,164.47 38.43,164.88 38.74,168.60 39.05,169.54 39.36,166.84 39.67,164.67 39.99,168.80 40.30,167.05 40.61,165.78 40.92,164.13 41.24,163.59 41.55,170.26 41.86,166.29 42.17,167.84 42.48,168.20 42.80,168.99 43.11,171.66 43.42,166.87 43.73,169.61 44.05,165.48 44.36,164.35 44.67,167.15 44.98,163.28 45.29,164.15 45.61,165.64 45.92,168.44 46.23,166.72 46.54,163.61 46.86,167.10 47.17,166.00 47.48,166.12 47.79,165.99 48.10,166.93 48.42,168.68 48.73,168.16 49.04,167.21 49.35,165.46 49.67,164.00 49.98,170.93 50.29,170.15 50.60,163.72 50.91,167.87 51.23,167.91 51.54,167.33 51.85,167.47 52.16,166.28 52.48,169.95 52.79,167.78 53.10,169.09 53.41,167.65 53.72,167.48 54.04,166.18 54.35,169.49 54.66,163.41 54.97,169.79 55.29,166.63 55.60,167.57 55.91,165.99 56.22,163.40 56.53,165.21 56.85,167.86 57.16,166.12 57.47,167.99 57.78,165.26 58.10,163.46 58.41,166.74 58.72,166.14 59.03,165.46 59.34,169.86 59.66,163.37 59.97,167.23 60.28,166.40 60.59,169.59 60.91,167.23 61.22,167.66 61.53,167.46 61.84,167.38 62.15,166.49 62.47,166.60 62.78,168.60 63.09,171.34 63.40,164.92 63.72,167.38 64.03,164.73 64.34,170.71 64.65,170.34 64.96,167.35 65.28,169.69 65.59,167.28 65.90,164.50 66.21,170.40 66.53,163.72 66.84,164.73 67.15,169.16 67.46,168.57 67.77,167.99 68.09,166.04 68.40,165.37 68.71,164.42 69.02,169.19 69.34,167.86 69.65,171.14 69.96,167.65 70.27,167.84 70.58,165.65 70.90,165.77 71.21,167.73 71.52,165.12 71.83,168.78 72.15,168.83 72.46,164.18 72.77,167.91 73.08,167.17 73.39,167.09 73.71,165.98 74.02,168.96 74.33,167.07 74.64,167.93 74.96,167.39 75.27,165.34 75.58,164.29 75.89,169.92 76.20,170.03 76.52,166.54 76.83,168.74 77.14,169.20 77.45,169.58 77.77,168.48 78.08,166.32 78.39,167.93 78.70,165.54 79.01,167.02 79.33,164.66 79.64,163.28 79.95,164.71 80.26,163.40 80.58,167.33 80.89,167.83 81.20,167.40 81.51,164.94 81.82,166.40 82.14,163.86 82.45,167.27 82.76,167.57 83.07,170.24 83.39,164.42 83.70,166.11 84.01,166.19 84.32,171.08 84.63,166.88 84.95,167.31 85.26,163.42 85.57,166.10 85.88,170.72 86.20,169.08 86.51,167.69 86.82,165.60 87.13,164.54 87.44,166.81 87.76,165.11 88.07,170.81 88.38,165.19 88.69,165.33 89.01,167.79 89.32,166.77 89.63,164.50 89.94,163.65 90.25,164.62 90.57,169.39 90.88,165.10 91.19,165.92 91.50,168.05 91.82,169.42 92.13,167.84 92.44,166.98 92.75,165.00 93.06,164.36 93.38,166.49 93.69,166.06 94.00,166.62 94.31,162.08 94.63,163.38 94.94,167.72 95.25,169.06 95.56,166.47 95.87,163.65 96.19,167.31 96.50,164.37 96.81,165.53 97.12,165.55 97.44,167.59 97.75,168.23 98.06,167.29 98.37,164.14 98.68,168.16 99.00,165.08 99.31,163.06 99.62,167.88 99.93,169.78 100.25,163.93 100.56,165.22 100.87,164.78 101.18,165.02 101.49,168.30 101.81,167.55 102.12,166.27 102.43,166.23 102.74,164.38 103.06,164.83 103.37,164.46 103.68,167.02 103.99,167.14 104.30,165.08 104.62,167.22 104.93,164.09 105.24,169.89 105.55,163.63 105.87,164.64 106.18,165.54 106.49,167.32 106.80,166.21 107.11,163.92 107.43,166.80 107.74,167.20 108.05,163.39 108.36,161.36 108.68,166.73 108.99,163.52 109.30,167.57 109.61,169.15 109.92,168.06 110.24,166.13 110.55,167.19 110.86,165.14 111.17,163.75 111.49,165.18 111.80,164.58 112.11,165.88 112.42,163.08 112.73,163.26 113.05,165.54 113.36,165.54 113.67,165.41 113.98,167.16 114.30,162.39 114.61,166.53 114.92,164.74 115.23,165.17 115.54,167.37 115.86,165.46 116.17,166.97 116.48,168.34 116.79,165.06 117.11,161.53 117.42,164.11 117.73,164.19 118.04,165.52 118.35,163.48 118.67,165.35 118.98,165.53 119.29,161.18 119.60,168.18 119.92,163.82 120.23,162.29 120.54,163.41 120.85,166.42 121.16,171.17 121.48,160.94 121.79,163.57 122.10,167.19 122.41,163.53 122.73,164.97 123.04,163.98 123.35,164.76 123.66,165.39 123.97,162.84 124.29,162.81 124.60,161.89 124.91,165.19 125.22,169.57 125.54,167.01 125.85,164.51 126.16,167.25 126.47,165.92 126.78,164.04 127.10,163.37 127.41,164.91 127.72,163.00 128.03,164.54 128.35,165.42 128.66,162.10 128.97,162.26 129.28,163.94 129.59,162.91 129.91,164.30 130.22,165.06 130.53,165.03 130.84,165.61 131.16,164.30 131.47,164.63 131.78,163.74 132.09,164.05 132.40,163.64 132.72,163.70 133.03,162.94 133.34,164.13 133.65,165.05 133.97,165.96 134.28,166.37 134.59,164.69 134.90,161.85 135.21,160.38 135.53,159.74 135.84,162.17 136.15,163.07 136.46,164.61 136.78,162.70 137.09,162.44 137.40,159.94 137.71,163.64 138.02,165.88 138.34,161.23 138.65,166.18 138.96,163.34 139.27,160.14 139.59,162.95 139.90,162.07 140.21,162.25 140.52,159.02 140.83,162.07 141.15,163.00 141.46,158.78 141.77,162.01 142.08,163.47 142.40,161.51 142.71,159.40 143.02,160.26 143.33,162.06 143.64,161.58 143.96,160.18 144.27,159.00 144.58,158.77 144.89,159.71 145.21,157.65 145.52,160.65 145.83,163.67 146.14,159.28 146.45,159.49 146.77,159.73 147.08,160.58 147.39,158.77 147.70,160.27 148.02,157.42 148.33,156.83 148.64,157.73 148.95,159.80 149.26,157.42 149.58,157.15 149.89,158.96 150.20,154.50 150.51,157.56 150.83,153.81 151.14,157.21 151.45,162.14 151.76,155.15 152.07,160.63 152.39,157.20 152.70,157.30 153.01,157.65 153.32,162.27 153.64,157.24 153.95,158.50 154.26,157.40 154.57,157.83 154.88,159.79 155.20,158.93 155.51,158.55 155.82,156.98 156.13,158.69 156.45,157.88 156.76,158.21 157.07,158.45 157.38,157.24 157.69,155.72 158.01,159.06 158.32,154.67 158.63,160.01 158.94,157.09 159.26,156.40 159.57,160.26 159.88,156.91 160.19,158.32 160.50,156.38 160.82,159.01 161.13,158.81 161.44,157.64 161.75,157.70 162.07,155.05 162.38,160.36 162.69,156.79 163.00,157.83 163.31,157.12 163.63,158.55 163.94,157.62 164.25,157.31 164.56,157.44 164.88,158.44 165.19,161.06 165.50,155.75 165.81,160.04 166.12,158.16 166.44,158.86 166.75,156.60 167.06,159.89 167.37,159.40 167.69,154.17 168.00,154.43 168.31,161.18 168.62,156.67 168.93,157.33 169.25,154.78 169.56,157.70 169.87,157.82 170.18,156.69 170.50,160.16 170.81,157.15 171.12,159.14 171.43,157.43 171.74,157.52 172.06,156.32 172.37,155.33 172.68,158.58 172.99,157.00 173.31,155.59 173.62,149.86 173.93,147.47 174.24,144.75 174.55,138.81 174.87,134.63 175.18,129.40 175.49,116.84 175.80,108.06 176.12,96.37 176.43,92.27 176.74,80.84 177.05,72.65 177.36,64.51 177.68,64.53 177.99,68.21 178.30,75.34 178.61,87.08 178.93,98.42 179.24,108.14 179.55,114.57 179.86,130.10 180.17,130.69 180.49,138.85 180.80,141.88 181.11,148.47 181.42,153.13 181.74,153.95 182.05,156.89 182.36,156.44 182.67,158.40 182.98,157.42 183.30,159.36 183.61,156.29 183.92,159.06 184.23,159.95 184.55,160.68 184.86,163.57 185.17,159.01 185.48,159.82 185.79,162.95 186.11,159.58 186.42,160.74 186.73,158.14 187.04,155.43 187.36,165.92 187.67,163.20 187.98,165.80 188.29,161.64 188.60,159.07 188.92,162.68 189.23,160.18 189.54,162.53 189.85,162.93 190.17,163.36 190.48,160.69 190.79,162.59 191.10,163.13 191.41,165.12 191.73,161.76 192.04,166.28 192.35,163.86 192.66,163.45 192.98,161.51 193.29,163.44 193.60,164.07 193.91,160.93 194.22,164.22 194.54,163.53 194.85,162.53 195.16,161.50 195.47,162.77 195.79,164.55 196.10,166.65 196.41,163.61 196.72,162.72 197.03,164.79 197.35,165.38 197.66,165.02 197.97,163.27 198.28,158.83 198.60,164.06 198.91,163.62 199.22,161.53 199.53,163.94 199.84,161.93 200.16,163.34 200.47,166.45 200.78,162.90 201.09,159.41 201.41,166.19 201.72,163.97 202.03,164.24 202.34,160.70 202.65,160.66 202.97,163.65 203.28,163.37 203.59,164.79 203.90,164.10 204.22,165.22 204.53,163.77 204.84,165.38 205.15,163.69 205.46,165.72 205.78,166.05 206.09,161.82 206.40,164.86 206.71,164.22 207.03,164.97 207.34,168.69 207.65,163.88 207.96,164.80 208.27,165.63 208.59,160.94 208.90,168.09 209.21,166.53 209.52,165.06 209.84,167.25 210.15,170.68 210.46,163.87 210.77,168.14 211.08,168.91 211.40,163.94 211.71,166.49 212.02,162.99 212.33,166.12 212.65,164.25 212.96,166.77 213.27,164.86 213.58,168.11 213.89,168.08 214.21,169.07 214.52,165.53 214.83,165.11 215.14,165.14 215.46,164.53 215.77,165.55 216.08,163.80 216.39,165.29 216.70,167.42 217.02,167.77 217.33,166.67 217.64,162.81 217.95,168.87 218.27,169.52 218.58,167.63 218.89,165.15 219.20,167.24 219.51,165.78 219.83,162.87 220.14,168.25 220.45,167.73 220.76,167.06 221.08,167.42 221.39,166.14 221.70,163.73 222.01,169.07 222.32,165.48 222.64,165.49 222.95,167.11 223.26,162.92 223.57,165.74 223.89,167.34 224.20,165.75 224.51,161.53 224.82,166.58 225.13,168.00 225.45,163.68 225.76,170.82 226.07,166.66 226.38,166.43 226.70,167.25 227.01,168.37 227.32,166.89 227.63,166.26 227.94,167.11 228.26,164.07 228.57,170.40 228.88,163.16 229.19,166.15 229.51,164.98 229.82,166.75 230.13,166.33 230.44,168.56 230.75,166.35 231.07,165.99 231.38,170.62 231.69,164.54 232.00,166.54 232.32,165.81 232.63,168.49 232.94,166.56 233.25,168.95 233.56,165.10 233.88,167.16 234.19,167.69 234.50,166.59 234.81,167.17 235.13,163.48 235.44,167.57 235.75,166.04 236.06,170.31 236.37,164.72 236.69,163.66 237.00,170.61 237.31,170.44 237.62,166.20 237.94,162.81 238.25,165.18 238.56,167.21 238.87,167.49 239.18,168.60 239.50,168.98 239.81,167.90 240.12,166.30 240.43,169.35 240.75,169.79 241.06,167.39 241.37,165.92 241.68,168.23 241.99,166.99 242.31,166.62 242.62,166.90 242.93,168.98 243.24,169.67 243.56,168.70 243.87,167.54 244.18,166.02 244.49,163.59 244.80,166.30 245.12,167.69 245.43,165.01 245.74,167.55 246.05,165.13 246.37,167.24 246.68,161.36 246.99,167.56 247.30,168.16 247.61,166.80 247.93,168.10 248.24,164.82 248.55,166.91 248.86,165.95 249.18,166.89 249.49,166.74 249.80,167.09 250.11,165.30 250.42,165.90 250.74,163.26 251.05,166.29 251.36,161.82 251.67,167.45 251.99,170.63 252.30,165.85 252.61,165.93 252.92,166.97 253.23,167.65 253.55,168.27 253.86,165.78 254.17,166.23 254.48,167.65 254.80,167.65 255.11,164.41 255.42,167.83 255.73,170.25 256.04,163.38 256.36,166.03 256.67,166.26 256.98,164.80 257.29,164.23 257.61,170.17 257.92,167.25 258.23,167.70 258.54,168.79 258.85,164.51 259.17,169.33 259.48,165.64 259.79,169.01 260.10,166.88 260.42,169.62 260.73,168.05 261.04,166.88 261.35,168.90 261.66,165.70 261.98,168.22 262.29,164.23 262.60,166.64 262.91,170.74 263.23,168.75 263.54,165.05 263.85,169.61 264.16,166.37 264.47,167.77 264.79,166.27 265.10,168.21 265.41,165.97 265.72,169.76 266.04,166.40 266.35,165.79 266.66,166.21 266.97,164.32 267.28,168.36 267.60,169.23 267.91,169.74 268.22,168.02 268.53,166.73 268.85,169.66 269.16,169.90 269.47,165.82 269.78,164.59 270.09,166.09 270.41,167.05 270.72,169.28 271.03,169.23 271.34,167.82 271.66,169.36 271.97,166.57 272.28,166.89 272.59,162.74 272.90,166.09 273.22,166.63 273.53,169.44 273.84,166.92 274.15,166.42 274.47,167.39 274.78,166.43 275.09,163.26 275.40,165.83 275.71,166.84 276.03,166.74 276.34,165.85 276.65,166.26 276.96,168.32 277.28,164.26 277.59,166.63 277.90,166.00 278.21,166.69 278.52,167.26 278.84,168.53 279.15,162.00 279.46,166.80 279.77,164.93 280.09,163.86 280.40,167.53 280.71,167.40 281.02,165.77 281.33,166.77 281.65,165.56 281.96,169.99 282.27,170.59 282.58,169.46 282.90,164.90 283.21,168.59 283.52,167.88 283.83,167.39 284.14,166.94 284.46,166.71 284.77,166.08 285.08,165.91 285.39,165.67 285.71,171.97 286.02,168.34 286.33,165.93 286.64,165.98 286.95,168.34 287.27,170.85 287.58,170.63 287.89,165.40 288.20,164.68 288.52,166.04 288.83,167.89 289.14,166.24 289.45,166.17 289.76,171.40 290.08,164.79 290.39,168.65 290.70,167.01 291.01,166.15 291.33,171.11 291.64,164.80 291.95,167.86 292.26,167.00 292.57,165.97 292.89,166.50 293.20,167.51 293.51,172.48 293.82,168.34 294.14,166.84 294.45,164.59 294.76,167.81 295.07,168.95 295.38,172.94 295.70,164.26 296.01,164.52 296.32,163.82 296.63,164.32 296.95,169.74 297.26,167.18 297.57,165.98 297.88,167.68 298.19,167.23 298.51,167.12 298.82,169.71 299.13,169.12 299.44,166.69 299.76,169.88 300.07,169.44 300.38,166.93 300.69,166.53 301.00,166.68 301.32,165.59 301.63,163.25 301.94,169.69 302.25,170.16 302.57,162.66 302.88,166.86 303.19,165.56 303.50,166.68 303.81,168.25 304.13,169.64 304.44,168.46 304.75,168.89 305.06,169.70 305.38,168.04 305.69,169.78 306.00,169.28" fill="none" stroke="#00f" stroke-width="1.30" stroke-linejoin="miter"/>
<path d="M171.00,157.04 171.11,157.00 171.22,156.97 171.32,156.93 171.43,156.88 171.54,156.82 171.65,156.76 171.76,156.68 171.87,156.59 171.97,156.49 172.08,156.37 172.19,156.24 172.30,156.08 172.41,155.90 172.52,155.68 172.62,155.44 172.73,155.15 172.84,154.83 172.95,154.45 173.06,154.02 173.17,153.53 173.28,152.97 173.38,152.35 173.49,151.64 173.60,150.84 173.71,149.95 173.82,148.96 173.93,147.86 174.03,146.65 174.14,145.31 174.25,143.85 174.36,142.26 174.47,140.53 174.57,138.67 174.68,136.66 174.79,134.51 174.90,132.23 175.01,129.80 175.12,127.24 175.22,124.55 175.33,121.74 175.44,118.82 175.55,115.80 175.66,112.69 175.77,109.49 175.88,106.24 175.98,102.93 176.09,99.63 176.20,96.32 176.31,93.00 176.42,89.68 176.53,86.39 176.63,83.14 176.74,79.96 176.85,76.86 176.96,73.91 177.07,71.15 177.18,68.68 177.28,66.59 177.39,65.02 177.50,64.06 177.61,63.81 177.72,64.28 177.82,65.45 177.93,67.22 178.04,69.48 178.15,72.11 178.26,75.01 178.37,78.10 178.47,81.32 178.58,84.62 178.69,87.99 178.80,91.39 178.91,94.82 179.02,98.25 179.12,101.66 179.23,105.06 179.34,108.41 179.45,111.72 179.56,114.95 179.67,118.11 179.78,121.17 179.88,124.13 179.99,126.97 180.10,129.69 180.21,132.29 180.32,134.75 180.43,137.07 180.53,139.25 180.64,141.28 180.75,143.18 180.86,144.94 180.97,146.57 181.07,148.07 181.18,149.43 181.29,150.68 181.40,151.82 181.51,152.85 181.62,153.78 181.72,154.61 181.83,155.36 181.94,156.04 182.05,156.62 182.16,157.12 182.27,157.56 182.38,157.94 182.48,158.28 182.59,158.58 182.70,158.83 182.81,159.06 182.92,159.26 183.03,159.43 183.13,159.58 183.24,159.71 183.35,159.83 183.46,159.93 183.57,160.02 183.68,160.10 183.78,160.17 183.89,160.23 184.00,160.29" fill="none" stroke="#00f" stroke-width="2.6" stroke-linejoin="round"/>
<rect x="23" y="5" width="2" height="237" fill="#000"/>
<rect x="23" y="5" width="285" height="2" fill="#000"/>
<rect x="306" y="5" width="2" height="237" fill="#000"/>
<rect x="23" y="240" width="285" height="2" fill="#000"/>
<rect x="23.20" y="235.00" width="1.6" height="5.00" fill="#000"/>
<rect x="58.58" y="237.00" width="1.6" height="3.00" fill="#000"/>
<rect x="93.95" y="235.00" width="1.6" height="5.00" fill="#000"/>
<rect x="129.32" y="237.00" width="1.6" height="3.00" fill="#000"/>
<rect x="164.70" y="235.00" width="1.6" height="5.00" fill="#000"/>
<rect x="200.07" y="237.00" width="1.6" height="3.00" fill="#000"/>
<rect x="235.45" y="235.00" width="1.6" height="5.00" fill="#000"/>
<rect x="270.82" y="237.00" width="1.6" height="3.00" fill="#000"/>
<rect x="306.20" y="235.00" width="1.6" height="5.00" fill="#000"/>
<rect x="25" y="29.80" width="4" height="1.6" fill="#000"/>
<rect x="25" y="54.60" width="4" height="1.6" fill="#000"/>
<rect x="25" y="79.40" width="4" height="1.6" fill="#000"/>
<rect x="25" y="104.20" width="4" height="1.6" fill="#000"/>
<rect x="25" y="129.00" width="4" height="1.6" fill="#000"/>
<rect x="25" y="153.80" width="4" height="1.6" fill="#000"/>
<rect x="25" y="178.60" width="4" height="1.6" fill="#000"/>
<rect x="25" y="203.40" width="4" height="1.6" fill="#000"/>
<rect x="25" y="228.20" width="4" height="1.6" fill="#000"/>
<rect x="25" y="17.40" width="2" height="1.6" fill="#000"/>
<rect x="25" y="42.20" width="2" height="1.6" fill="#000"/>
<rect x="25" y="67.00" width="2" height="1.6" fill="#000"/>
<rect x="25" y="91.80" width="2" height="1.6" fill="#000"/>
<rect x="25" y="116.60" width="2" height="1.6" fill="#000"/>
<rect x="25" y="141.40" width="2" height="1.6" fill="#000"/>
<rect x="25" y="166.20" width="2" height="1.6" fill="#000"/>
<rect x="25" y="191.00" width="2" height="1.6" fill="#000"/>
<rect x="25" y="215.80" width="2" height="1.6" fill="#000"/>
<text x="23.50" y="256.6" font-family="Liberation Sans, sans-serif" font-weight="bold" font-size="13.9" text-anchor="middle">530</text>
<text x="94.25" y="256.6" font-family="Liberation Sans, sans-serif" font-weight="bold" font-size="13.9" text-anchor="middle">540</text>
<text x="165.00" y="256.6" font-family="Liberation Sans, sans-serif" font-weight="bold" font-size="13.9" text-anchor="middle">550</text>
<text x="235.75" y="256.6" font-family="Liberation Sans, sans-serif" font-weight="bold" font-size="13.9" text-anchor="middle">560</text>
<text x="306.50" y="256.6" font-family="Liberation Sans, sans-serif" font-weight="bold" font-size="13.9" text-anchor="middle">570</text>
<text x="31" y="32.4" font-family="Liberation Sans, sans-serif" font-size="21">(a)</text>
<rect x="217" y="28.50" width="27.5" height="2" fill="#00f"/>
<text x="247" y="32.90" font-family="Liberation Sans, sans-serif" font-weight="bold" font-size="12.8">3.43 <tspan font-family="Liberation Serif, serif" font-weight="normal" font-size="13">&#956;</tspan>W</text>
<rect x="217" y="44.70" width="27.5" height="2" fill="#f00"/>
<text x="247" y="49.70" font-family="Liberation Sans, sans-serif" font-weight="bold" font-size="12.8">1.62 <tspan font-family="Liberation Serif, serif" font-weight="normal" font-size="13">&#956;</tspan>W</text>
<rect x="217" y="61.30" width="27.5" height="2" fill="#000"/>
<text x="247" y="65.80" font-family="Liberation Sans, sans-serif" font-weight="bold" font-size="12.8">1.4 <tspan font-family="Liberation Serif, serif" font-weight="normal" font-size="13">&#956;</tspan>W</text>
<text transform="translate(12.3,125) rotate(-90)" font-family="Liberation Sans, sans-serif" font-weight="bold" font-size="15.2" text-anchor="middle">Intensity (a.u.)</text>
<text x="166.3" y="277.2" font-family="Liberation Sans, sans-serif" font-weight="bold" font-size="14.2" text-anchor="middle" letter-spacing="0.55">Wavelength (nm)</text>
<rect x="371.5" y="5" width="2" height="236" fill="#f00"/>
<rect x="371.5" y="5" width="274.5" height="2" fill="#000"/>
<rect x="372" y="239" width="272" height="2" fill="#000"/>
<rect x="644" y="5" width="2" height="236" fill="#00f"/>
<rect x="390.41" y="237" width="1.6" height="2" fill="#000"/>
<rect x="406.98" y="237" width="1.6" height="2" fill="#000"/>
<rect x="422.10" y="237" width="1.6" height="2" fill="#000"/>
<rect x="436.01" y="237" width="1.6" height="2" fill="#000"/>
<rect x="448.89" y="237" width="1.6" height="2" fill="#000"/>
<rect x="460.88" y="237" width="1.6" height="2" fill="#000"/>
<rect x="472.10" y="237" width="1.6" height="2" fill="#000"/>
<rect x="482.63" y="237" width="1.6" height="2" fill="#000"/>
<rect x="492.57" y="234.5" width="1.6" height="4.5" fill="#000"/>
<rect x="501.97" y="237" width="1.6" height="2" fill="#000"/>
<rect x="510.88" y="237" width="1.6" height="2" fill="#000"/>
<rect x="519.36" y="237" width="1.6" height="2" fill="#000"/>
<rect x="527.45" y="237" width="1.6" height="2" fill="#000"/>
<rect x="535.17" y="237" width="1.6" height="2" fill="#000"/>
<rect x="542.57" y="237" width="1.6" height="2" fill="#000"/>
<rect x="549.66" y="237" width="1.6" height="2" fill="#000"/>
<rect x="556.48" y="237" width="1.6" height="2" fill="#000"/>
<rect x="563.04" y="234.5" width="1.6" height="4.5" fill="#000"/>
<rect x="569.36" y="237" width="1.6" height="2" fill="#000"/>
<rect x="575.46" y="237" width="1.6" height="2" fill="#000"/>
<rect x="581.35" y="237" width="1.6" height="2" fill="#000"/>
<rect x="587.05" y="237" width="1.6" height="2" fill="#000"/>
<rect x="592.57" y="237" width="1.6" height="2" fill="#000"/>
<rect x="597.92" y="237" width="1.6" height="2" fill="#000"/>
<rect x="603.10" y="237" width="1.6" height="2" fill="#000"/>
<rect x="608.14" y="237" width="1.6" height="2" fill="#000"/>
<rect x="613.04" y="234.5" width="1.6" height="4.5" fill="#000"/>
<rect x="617.80" y="237" width="1.6" height="2" fill="#000"/>
<rect x="622.43" y="237" width="1.6" height="2" fill="#000"/>
<rect x="626.95" y="237" width="1.6" height="2" fill="#000"/>
<rect x="631.35" y="237" width="1.6" height="2" fill="#000"/>
<rect x="635.64" y="237" width="1.6" height="2" fill="#000"/>
<rect x="639.83" y="237" width="1.6" height="2" fill="#000"/>
<text x="372.90" y="255.8" font-family="Liberation Sans, sans-serif" font-weight="bold" font-size="12.8" text-anchor="middle">1</text>
<text x="493.37" y="255.8" font-family="Liberation Sans, sans-serif" font-weight="bold" font-size="12.8" text-anchor="middle">2</text>
<text x="563.84" y="255.8" font-family="Liberation Sans, sans-serif" font-weight="bold" font-size="12.8" text-anchor="middle">3</text>
<text x="613.84" y="255.8" font-family="Liberation Sans, sans-serif" font-weight="bold" font-size="12.8" text-anchor="middle">4</text>
<rect x="373.5" y="177.80" width="4.5" height="1.6" fill="#f00"/>
<rect x="373.5" y="60.95" width="4.5" height="1.6" fill="#f00"/>
<rect x="373.5" y="224.30" width="2.2" height="1.6" fill="#f00"/>
<rect x="373.5" y="212.98" width="2.2" height="1.6" fill="#f00"/>
<rect x="373.5" y="203.72" width="2.2" height="1.6" fill="#f00"/>
<rect x="373.5" y="195.90" width="2.2" height="1.6" fill="#f00"/>
<rect x="373.5" y="189.12" width="2.2" height="1.6" fill="#f00"/>
<rect x="373.5" y="183.15" width="2.2" height="1.6" fill="#f00"/>
<rect x="373.5" y="142.62" width="2.2" height="1.6" fill="#f00"/>
<rect x="373.5" y="122.05" width="2.2" height="1.6" fill="#f00"/>
<rect x="373.5" y="107.45" width="2.2" height="1.6" fill="#f00"/>
<rect x="373.5" y="96.13" width="2.2" height="1.6" fill="#f00"/>
<rect x="373.5" y="86.87" width="2.2" height="1.6" fill="#f00"/>
<rect x="373.5" y="79.05" width="2.2" height="1.6" fill="#f00"/>
<rect x="373.5" y="72.27" width="2.2" height="1.6" fill="#f00"/>
<rect x="373.5" y="66.30" width="2.2" height="1.6" fill="#f00"/>
<rect x="373.5" y="25.77" width="2.2" height="1.6" fill="#f00"/>
<text x="367" y="181.90" font-family="Liberation Sans, sans-serif" font-weight="bold" font-size="12.2" text-anchor="end" fill="#f00">100</text>
<text x="367" y="65.05" font-family="Liberation Sans, sans-serif" font-weight="bold" font-size="12.2" text-anchor="end" fill="#f00">1000</text>
<rect x="639.5" y="230.50" width="4.5" height="1.6" fill="#00f"/>
<rect x="639.5" y="213.14" width="4.5" height="1.6" fill="#00f"/>
<rect x="639.5" y="195.78" width="4.5" height="1.6" fill="#00f"/>
<rect x="639.5" y="178.42" width="4.5" height="1.6" fill="#00f"/>
<rect x="639.5" y="161.06" width="4.5" height="1.6" fill="#00f"/>
<rect x="639.5" y="143.70" width="4.5" height="1.6" fill="#00f"/>
<rect x="639.5" y="126.34" width="4.5" height="1.6" fill="#00f"/>
<rect x="639.5" y="108.98" width="4.5" height="1.6" fill="#00f"/>
<rect x="639.5" y="91.62" width="4.5" height="1.6" fill="#00f"/>
<rect x="639.5" y="74.26" width="4.5" height="1.6" fill="#00f"/>
<rect x="639.5" y="56.90" width="4.5" height="1.6" fill="#00f"/>
<rect x="639.5" y="39.54" width="4.5" height="1.6" fill="#00f"/>
<rect x="639.5" y="22.18" width="4.5" height="1.6" fill="#00f"/>
<rect x="639.5" y="4.82" width="4.5" height="1.6" fill="#00f"/>
<rect x="641.8" y="221.82" width="2.2" height="1.6" fill="#00f"/>
<rect x="641.8" y="204.46" width="2.2" height="1.6" fill="#00f"/>
<rect x="641.8" y="187.10" width="2.2" height="1.6" fill="#00f"/>
<rect x="641.8" y="169.74" width="2.2" height="1.6" fill="#00f"/>
<rect x="641.8" y="152.38" width="2.2" height="1.6" fill="#00f"/>
<rect x="641.8" y="135.02" width="2.2" height="1.6" fill="#00f"/>
<rect x="641.8" y="117.66" width="2.2" height="1.6" fill="#00f"/>
<rect x="641.8" y="100.30" width="2.2" height="1.6" fill="#00f"/>
<rect x="641.8" y="82.94" width="2.2" height="1.6" fill="#00f"/>
<rect x="641.8" y="65.58" width="2.2" height="1.6" fill="#00f"/>
<rect x="641.8" y="48.22" width="2.2" height="1.6" fill="#00f"/>
<rect x="641.8" y="30.86" width="2.2" height="1.6" fill="#00f"/>
<rect x="641.8" y="13.50" width="2.2" height="1.6" fill="#00f"/>
<text x="650" y="234.30" font-family="Liberation Sans, sans-serif" font-weight="bold" font-size="12.2" fill="#00f">0</text>
<text x="650" y="216.94" font-family="Liberation Sans, sans-serif" font-weight="bold" font-size="12.2" fill="#00f">1</text>
<text x="650" y="199.58" font-family="Liberation Sans, sans-serif" font-weight="bold" font-size="12.2" fill="#00f">2</text>
<text x="650" y="182.22" font-family="Liberation Sans, sans-serif" font-weight="bold" font-size="12.2" fill="#00f">3</text>
<text x="650" y="164.86" font-family="Liberation Sans, sans-serif" font-weight="bold" font-size="12.2" fill="#00f">4</text>
<text x="650" y="147.50" font-family="Liberation Sans, sans-serif" font-weight="bold" font-size="12.2" fill="#00f">5</text>
<text x="650" y="130.14" font-family="Liberation Sans, sans-serif" font-weight="bold" font-size="12.2" fill="#00f">6</text>
<text x="650" y="112.78" font-family="Liberation Sans, sans-serif" font-weight="bold" font-size="12.2" fill="#00f">7</text>
<text x="650" y="95.42" font-family="Liberation Sans, sans-serif" font-weight="bold" font-size="12.2" fill="#00f">8</text>
<text x="650" y="78.06" font-family="Liberation Sans, sans-serif" font-weight="bold" font-size="12.2" fill="#00f">9</text>
<text x="650" y="60.70" font-family="Liberation Sans, sans-serif" font-weight="bold" font-size="12.2" fill="#00f">10</text>
<text x="650" y="43.34" font-family="Liberation Sans, sans-serif" font-weight="bold" font-size="12.2" fill="#00f">11</text>
<text x="650" y="25.98" font-family="Liberation Sans, sans-serif" font-weight="bold" font-size="12.2" fill="#00f">12</text>
<text x="650" y="8.62" font-family="Liberation Sans, sans-serif" font-weight="bold" font-size="12.2" fill="#00f">13</text>
<text x="376.8" y="32.4" font-family="Liberation Sans, sans-serif" font-size="21">(b)</text>
<text transform="translate(333.8,122) rotate(-90)" font-family="Liberation Sans, sans-serif" font-weight="bold" font-size="15.9" text-anchor="middle" fill="#f00">Intensity (a.u.)</text>
<text transform="translate(681.2,115.7) rotate(-90)" font-family="Liberation Sans, sans-serif" font-weight="bold" font-size="15.9" text-anchor="middle" fill="#00f">FWHM (nm)</text>
<text x="508.5" y="272.6" font-family="Liberation Sans, sans-serif" font-weight="bold" font-size="14.95" text-anchor="middle">Pumping Power (<tspan font-family="Liberation Serif, serif" font-weight="normal">&#956;</tspan>W)</text>
<defs><radialGradient id="gr" cx="0.5" cy="0.5" r="0.5" fx="0.36" fy="0.33"><stop offset="0" stop-color="#fff"/><stop offset="0.12" stop-color="#fff0f0"/><stop offset="0.35" stop-color="#ff5050"/><stop offset="0.6" stop-color="#f00"/><stop offset="1" stop-color="#f00"/></radialGradient><radialGradient id="gb" cx="0.5" cy="0.5" r="0.5" fx="0.36" fy="0.33"><stop offset="0" stop-color="#fff"/><stop offset="0.12" stop-color="#f0f0ff"/><stop offset="0.35" stop-color="#5050ff"/><stop offset="0.6" stop-color="#00f"/><stop offset="1" stop-color="#00f"/></radialGradient></defs>
<circle cx="406.40" cy="208.30" r="4.8" fill="url(#gr)"/>
<circle cx="418.70" cy="212.60" r="4.8" fill="url(#gr)"/>
<circle cx="431.50" cy="209.40" r="4.8" fill="url(#gr)"/>
<circle cx="444.00" cy="210.00" r="4.8" fill="url(#gr)"/>
<circle cx="456.60" cy="175.60" r="4.8" fill="url(#gr)"/>
<circle cx="469.40" cy="145.90" r="4.8" fill="url(#gr)"/>
<circle cx="481.90" cy="119.00" r="4.8" fill="url(#gr)"/>
<circle cx="527.20" cy="109.50" r="4.8" fill="url(#gr)"/>
<circle cx="587.80" cy="70.90" r="4.8" fill="url(#gr)"/>
<circle cx="626.70" cy="34.50" r="4.8" fill="url(#gr)"/>
<circle cx="406.50" cy="24.20" r="4.8" fill="url(#gb)"/>
<circle cx="418.40" cy="66.10" r="4.8" fill="url(#gb)"/>
<circle cx="431.30" cy="90.50" r="4.8" fill="url(#gb)"/>
<circle cx="443.80" cy="100.30" r="4.8" fill="url(#gb)"/>
<circle cx="456.80" cy="222.60" r="4.8" fill="url(#gb)"/>
<circle cx="469.60" cy="223.30" r="4.8" fill="url(#gb)"/>
<circle cx="481.70" cy="222.30" r="4.8" fill="url(#gb)"/>
<circle cx="527.30" cy="222.60" r="4.8" fill="url(#gb)"/>
<circle cx="587.60" cy="219.40" r="4.8" fill="url(#gb)"/>
<circle cx="626.80" cy="220.20" r="4.8" fill="url(#gb)"/>
</svg>
</body></html>
